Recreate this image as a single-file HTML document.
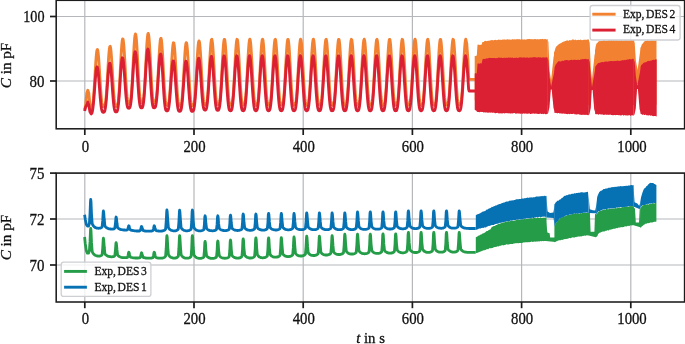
<!DOCTYPE html>
<html><head><meta charset="utf-8"><title>C in pF over t in s</title>
<style>
html,body{margin:0;padding:0;background:#fff;}
body{width:685px;height:344px;overflow:hidden;}
svg{display:block;}
svg text{font-family:"Liberation Serif","DejaVu Serif",serif;font-size:16.2px;fill:#111;stroke:#111;stroke-width:0.3px;}
</style></head><body>
<svg width="685" height="344" viewBox="0 0 685 344">
<rect width="685" height="344" fill="#ffffff"/>
<defs>
<clipPath id="ct"><rect x="56.2" y="0.3" width="628.4" height="128.5"/></clipPath>
<clipPath id="cb"><rect x="56.2" y="173.1" width="628.4" height="128.9"/></clipPath>
</defs>
<!-- top axes -->
<line x1="84.8" y1="0.3" x2="84.8" y2="128.8" stroke="#b6b7bb" stroke-width="1.2"/>
<line x1="194.0" y1="0.3" x2="194.0" y2="128.8" stroke="#b6b7bb" stroke-width="1.2"/>
<line x1="303.2" y1="0.3" x2="303.2" y2="128.8" stroke="#b6b7bb" stroke-width="1.2"/>
<line x1="412.4" y1="0.3" x2="412.4" y2="128.8" stroke="#b6b7bb" stroke-width="1.2"/>
<line x1="521.6" y1="0.3" x2="521.6" y2="128.8" stroke="#b6b7bb" stroke-width="1.2"/>
<line x1="630.8" y1="0.3" x2="630.8" y2="128.8" stroke="#b6b7bb" stroke-width="1.2"/>
<line x1="56.2" y1="16.5" x2="684.6" y2="16.5" stroke="#b6b7bb" stroke-width="1.2"/>
<line x1="56.2" y1="81.0" x2="684.6" y2="81.0" stroke="#b6b7bb" stroke-width="1.2"/>
<g clip-path="url(#ct)">
<path d="M84.6 109.6L85.6 105.6L86.8 93.3L87.8 90.3L88.8 93.3L90.0 106.0L91.4 108.0L91.8 107.7L92.2 106.9L92.6 105.2L93.0 102.6L93.4 98.9L93.8 94.1L94.2 88.3L94.6 81.9L95.0 75.0L95.4 68.3L95.8 62.0L96.2 56.6L96.6 52.6L97.0 50.1L97.4 49.4L97.8 50.5L98.2 53.3L98.6 57.6L99.0 63.1L99.4 69.4L99.8 76.1L100.2 82.7L100.6 88.9L101.0 94.3L101.4 98.8L101.8 102.2L102.2 104.5L102.6 105.9L103.0 106.6L103.4 106.8L103.8 106.8L104.2 106.7L104.6 106.3L105.0 105.3L105.4 103.4L105.8 100.4L106.2 96.3L106.6 91.1L107.0 84.9L107.4 78.1L107.8 71.1L108.2 64.1L108.6 57.8L109.0 52.6L109.4 48.7L109.8 46.6L110.2 46.3L110.6 47.9L111.0 51.2L111.4 56.1L111.8 62.0L112.2 68.8L112.6 75.8L113.0 82.7L113.4 89.0L113.8 94.5L114.2 99.0L114.6 102.2L115.0 104.4L115.4 105.7L115.8 106.3L116.2 106.4L116.6 106.4L117.0 106.3L117.4 105.7L117.8 104.3L118.2 101.9L118.6 98.3L119.0 93.4L119.4 87.4L119.8 80.3L120.2 72.6L120.6 64.7L121.0 57.1L121.4 50.3L121.8 44.8L122.2 40.9L122.6 39.0L123.0 39.1L123.4 41.3L123.8 45.2L124.2 50.7L124.6 57.4L125.0 64.7L125.4 72.2L125.8 79.5L126.2 86.1L126.6 91.7L127.0 96.2L127.4 99.4L127.8 101.5L128.2 102.6L128.6 103.1L129.0 103.2L129.4 103.2L129.8 103.0L130.2 102.2L130.6 100.6L131.0 97.9L131.4 93.9L131.8 88.6L132.2 82.1L132.6 74.7L133.0 66.7L133.4 58.7L133.8 51.0L134.2 44.3L134.6 39.0L135.0 35.5L135.4 34.0L135.8 34.7L136.2 37.5L136.6 42.1L137.0 48.3L137.4 55.6L137.8 63.5L138.2 71.6L138.6 79.2L139.0 86.0L139.4 91.7L139.8 96.2L140.2 99.4L140.6 101.4L141.0 102.4L141.4 102.7L141.8 102.8L142.2 102.8L142.6 102.5L143.0 101.5L143.4 99.7L143.8 96.7L144.2 92.4L144.6 86.7L145.0 80.0L145.4 72.4L145.8 64.3L146.2 56.3L146.6 48.8L147.0 42.4L147.4 37.4L147.8 34.4L148.2 33.4L148.6 34.6L149.0 37.8L149.4 42.9L149.8 49.5L150.2 57.0L150.6 65.1L151.0 73.1L151.4 80.7L151.8 87.3L152.2 92.8L152.6 97.0L153.0 99.9L153.4 101.7L153.8 102.5L154.2 102.8L154.6 102.8L155.0 102.7L155.4 102.3L155.8 101.3L156.2 99.4L156.6 96.3L157.0 92.0L157.4 86.5L157.8 80.0L158.2 72.8L158.6 65.2L159.0 57.8L159.4 51.0L159.8 45.4L160.2 41.1L160.6 38.7L161.0 38.3L161.4 39.9L161.8 43.5L162.2 48.8L162.6 55.4L163.0 62.9L163.4 70.7L163.8 78.4L164.2 85.5L164.6 91.7L165.0 96.8L165.4 100.5L165.8 103.1L166.2 104.6L166.6 105.2L167.0 105.4L167.4 105.4L167.8 105.3L168.2 104.8L168.6 103.6L169.0 101.5L169.4 98.2L169.8 93.7L170.2 88.1L170.6 81.6L171.0 74.5L171.4 67.2L171.8 60.1L172.2 53.7L172.6 48.5L173.0 44.7L173.4 42.8L173.8 42.9L174.2 44.8L174.6 48.6L175.0 53.9L175.4 60.3L175.8 67.5L176.2 74.9L176.6 82.0L177.0 88.6L177.4 94.2L177.8 98.6L178.2 101.9L178.6 104.0L179.0 105.2L179.4 105.7L179.8 105.8L180.2 105.8L180.6 105.6L181.0 105.0L181.4 103.6L181.8 101.2L182.2 97.6L182.6 92.8L183.0 87.0L183.4 80.3L183.8 73.0L184.2 65.6L184.6 58.6L185.0 52.4L185.4 47.5L185.8 44.1L186.2 42.7L186.6 43.1L187.0 45.6L187.4 49.7L187.8 55.3L188.2 62.0L188.6 69.2L189.0 76.6L189.4 83.6L189.8 90.0L190.2 95.3L190.6 99.5L191.0 102.5L191.4 104.4L191.8 105.4L192.2 105.7L192.6 105.8L193.0 105.8L193.4 105.5L193.8 104.7L194.2 103.0L194.6 100.3L195.0 96.4L195.4 91.2L195.8 84.9L196.2 77.9L196.6 70.4L197.0 62.8L197.4 55.8L197.8 49.7L198.2 45.0L198.6 42.0L199.0 40.9L199.4 41.8L199.8 44.7L200.2 49.3L200.6 55.2L201.0 62.1L201.4 69.5L201.8 77.0L202.2 83.9L202.6 90.1L203.0 95.3L203.4 99.2L203.8 102.0L204.2 103.7L204.6 104.5L205.0 104.8L205.4 104.8L205.8 104.7L206.2 104.4L206.6 103.4L207.0 101.5L207.4 98.4L207.8 94.2L208.2 88.7L208.6 82.2L209.0 74.9L209.4 67.2L209.8 59.7L210.2 52.8L210.6 46.9L211.0 42.5L211.4 39.9L211.8 39.3L212.2 40.8L212.6 44.2L213.0 49.2L213.4 55.6L213.8 62.9L214.2 70.5L214.6 78.1L215.0 85.1L215.4 91.3L215.8 96.3L216.2 100.0L216.6 102.6L217.0 104.1L217.4 104.8L217.8 105.0L218.2 105.0L218.6 104.9L219.0 104.4L219.4 103.2L219.8 101.1L220.2 97.7L220.6 93.1L221.0 87.4L221.4 80.6L221.8 73.2L222.2 65.5L222.6 58.0L223.0 51.3L223.4 45.7L223.8 41.7L224.2 39.5L224.6 39.4L225.0 41.3L225.4 45.1L225.8 50.6L226.2 57.2L226.6 64.7L227.0 72.4L227.4 79.9L227.8 86.8L228.2 92.7L228.6 97.4L229.0 100.9L229.4 103.2L229.8 104.5L230.2 105.1L230.6 105.2L231.0 105.2L231.4 105.0L231.8 104.4L232.2 103.0L232.6 100.6L233.0 96.9L233.4 92.1L233.8 86.0L234.2 79.0L234.6 71.5L235.0 63.8L235.4 56.4L235.8 49.9L236.2 44.6L236.6 41.0L237.0 39.3L237.4 39.7L237.8 42.0L238.2 46.3L238.6 52.0L239.0 58.9L239.4 66.5L239.8 74.2L240.2 81.6L240.6 88.2L241.0 93.9L241.4 98.3L241.8 101.6L242.2 103.6L242.6 104.7L243.0 105.1L243.4 105.2L243.8 105.2L244.2 104.9L244.6 104.2L245.0 102.6L245.4 99.8L245.8 95.9L246.2 90.7L246.6 84.5L247.0 77.3L247.4 69.7L247.8 62.0L248.2 54.8L248.6 48.5L249.0 43.6L249.4 40.4L249.8 39.2L250.2 40.0L250.6 42.9L251.0 47.5L251.4 53.5L251.8 60.6L252.2 68.2L252.6 75.9L253.0 83.2L253.4 89.6L253.8 95.0L254.2 99.2L254.6 102.1L255.0 103.9L255.4 104.9L255.8 105.2L256.2 105.2L256.6 105.2L257.0 104.8L257.4 103.9L257.8 102.0L258.2 99.0L258.6 94.8L259.0 89.4L259.4 82.9L259.8 75.6L260.2 67.9L260.6 60.3L261.0 53.2L261.4 47.2L261.8 42.7L262.2 40.0L262.6 39.2L263.0 40.5L263.4 43.8L263.8 48.8L264.2 55.1L264.6 62.4L265.0 70.0L265.4 77.7L265.8 84.8L266.2 91.0L266.6 96.1L267.0 100.0L267.4 102.6L267.8 104.2L268.2 105.0L268.6 105.2L269.0 105.2L269.4 105.1L269.8 104.7L270.2 103.5L270.6 101.4L271.0 98.2L271.4 93.7L271.8 88.0L272.2 81.2L272.6 73.8L273.0 66.1L273.4 58.6L273.8 51.7L274.2 46.0L274.6 41.9L275.0 39.6L275.4 39.3L275.8 41.1L276.2 44.8L276.6 50.1L277.0 56.7L277.4 64.1L277.8 71.8L278.2 79.4L278.6 86.3L279.0 92.3L279.4 97.1L279.8 100.7L280.2 103.1L280.6 104.5L281.0 105.1L281.4 105.2L281.8 105.2L282.2 105.1L282.6 104.5L283.0 103.1L283.4 100.8L283.8 97.2L284.2 92.4L284.6 86.5L285.0 79.6L285.4 72.0L285.8 64.3L286.2 56.9L286.6 50.3L287.0 44.9L287.4 41.2L287.8 39.4L288.2 39.6L288.6 41.8L289.0 45.9L289.4 51.6L289.8 58.4L290.2 65.9L290.6 73.6L291.0 81.1L291.4 87.8L291.8 93.5L292.2 98.1L292.6 101.4L293.0 103.5L293.4 104.7L293.8 105.1L294.2 105.2L294.6 105.2L295.0 105.0L295.4 104.2L295.8 102.7L296.2 100.1L296.6 96.2L297.0 91.1L297.4 84.9L297.8 77.8L298.2 70.2L298.6 62.6L299.0 55.3L299.4 48.9L299.8 43.9L300.2 40.6L300.6 39.2L301.0 39.9L301.4 42.6L301.8 47.1L302.2 53.1L302.6 60.1L303.0 67.7L303.4 75.4L303.8 82.7L304.2 89.2L304.6 94.7L305.0 99.0L305.4 102.0L305.8 103.8L306.2 104.8L306.6 105.2L307.0 105.2L307.4 105.2L307.8 104.9L308.2 104.0L308.6 102.2L309.0 99.3L309.4 95.2L309.8 89.8L310.2 83.4L310.6 76.1L311.0 68.4L311.4 60.8L311.8 53.7L312.2 47.6L312.6 43.0L313.0 40.1L313.4 39.2L313.8 40.4L314.2 43.5L314.6 48.4L315.0 54.6L315.4 61.8L315.8 69.5L316.2 77.1L316.6 84.3L317.0 90.6L317.4 95.8L317.8 99.8L318.2 102.5L318.6 104.1L319.0 104.9L319.4 105.2L319.8 105.2L320.2 105.1L320.6 104.7L321.0 103.6L321.4 101.6L321.8 98.4L322.2 94.0L322.6 88.4L323.0 81.7L323.4 74.3L323.8 66.6L324.2 59.1L324.6 52.2L325.0 46.4L325.4 42.1L325.8 39.7L326.2 39.3L326.6 40.9L327.0 44.5L327.4 49.7L327.8 56.2L328.2 63.6L328.6 71.3L329.0 78.9L329.4 85.8L329.8 91.9L330.2 96.8L330.6 100.5L331.0 103.0L331.4 104.4L331.8 105.0L332.2 105.2L332.6 105.2L333.0 105.1L333.4 104.5L333.8 103.3L334.2 101.0L334.6 97.5L335.0 92.8L335.4 86.9L335.8 80.1L336.2 72.6L336.6 64.9L337.0 57.4L337.4 50.7L337.8 45.2L338.2 41.4L338.6 39.4L339.0 39.5L339.4 41.6L339.8 45.6L340.2 51.1L340.6 57.9L341.0 65.4L341.4 73.1L341.8 80.6L342.2 87.4L342.6 93.2L343.0 97.8L343.4 101.2L343.8 103.4L344.2 104.6L344.6 105.1L345.0 105.2L345.4 105.2L345.8 105.0L346.2 104.3L346.6 102.8L347.0 100.3L347.4 96.5L347.8 91.5L348.2 85.4L348.6 78.4L349.0 70.8L349.4 63.1L349.8 55.8L350.2 49.3L350.6 44.2L351.0 40.8L351.4 39.3L351.8 39.8L352.2 42.4L352.6 46.7L353.0 52.6L353.4 59.6L353.8 67.2L354.2 74.9L354.6 82.2L355.0 88.8L355.4 94.4L355.8 98.7L356.2 101.8L356.6 103.7L357.0 104.8L357.4 105.1L357.8 105.2L358.2 105.2L358.6 104.9L359.0 104.1L359.4 102.3L359.8 99.5L360.2 95.5L360.6 90.2L361.0 83.8L361.4 76.6L361.8 69.0L362.2 61.3L362.6 54.2L363.0 48.0L363.4 43.2L363.8 40.2L364.2 39.2L364.6 40.2L365.0 43.2L365.4 48.0L365.8 54.2L366.2 61.3L366.6 69.0L367.0 76.6L367.4 83.8L367.8 90.2L368.2 95.5L368.6 99.5L369.0 102.3L369.4 104.1L369.8 104.9L370.2 105.2L370.6 105.2L371.0 105.1L371.4 104.8L371.8 103.8L372.2 101.8L372.6 98.7L373.0 94.4L373.4 88.8L373.8 82.2L374.2 74.9L374.6 67.2L375.0 59.6L375.4 52.6L375.8 46.8L376.2 42.4L376.6 39.8L377.0 39.3L377.4 40.8L377.8 44.2L378.2 49.3L378.6 55.8L379.0 63.1L379.4 70.8L379.8 78.3L380.2 85.4L380.6 91.5L381.0 96.5L381.4 100.3L381.8 102.8L382.2 104.3L382.6 105.0L383.0 105.2L383.4 105.2L383.8 105.1L384.2 104.6L384.6 103.4L385.0 101.2L385.4 97.8L385.8 93.2L386.2 87.4L386.6 80.6L387.0 73.1L387.4 65.4L387.8 57.9L388.2 51.2L388.6 45.6L389.0 41.6L389.4 39.5L389.8 39.4L390.2 41.4L390.6 45.2L391.0 50.7L391.4 57.4L391.8 64.8L392.2 72.6L392.6 80.0L393.0 86.9L393.4 92.8L393.8 97.5L394.2 101.0L394.6 103.3L395.0 104.5L395.4 105.1L395.8 105.2L396.2 105.2L396.6 105.0L397.0 104.4L397.4 103.0L397.8 100.5L398.2 96.8L398.6 91.9L399.0 85.9L399.4 78.9L399.8 71.3L400.2 63.6L400.6 56.3L401.0 49.7L401.4 44.5L401.8 40.9L402.2 39.3L402.6 39.7L403.0 42.1L403.4 46.4L403.8 52.2L404.2 59.1L404.6 66.6L405.0 74.3L405.4 81.7L405.8 88.4L406.2 94.0L406.6 98.4L407.0 101.6L407.4 103.6L407.8 104.7L408.2 105.1L408.6 105.2L409.0 105.2L409.4 104.9L409.8 104.1L410.2 102.5L410.6 99.8L411.0 95.8L411.4 90.6L411.8 84.3L412.2 77.2L412.6 69.5L413.0 61.9L413.4 54.6L413.8 48.4L414.2 43.5L414.6 40.4L415.0 39.2L415.4 40.1L415.8 43.0L416.2 47.6L416.6 53.7L417.0 60.8L417.4 68.4L417.8 76.1L418.2 83.3L418.6 89.8L419.0 95.1L419.4 99.3L419.8 102.2L420.2 104.0L420.6 104.9L421.0 105.2L421.4 105.2L421.8 105.2L422.2 104.8L422.6 103.8L423.0 102.0L423.4 99.0L423.8 94.7L424.2 89.2L424.6 82.7L425.0 75.4L425.4 67.7L425.8 60.1L426.2 53.1L426.6 47.1L427.0 42.6L427.4 39.9L427.8 39.2L428.2 40.6L428.6 43.9L429.0 48.9L429.4 55.3L429.8 62.5L430.2 70.2L430.6 77.8L431.0 84.9L431.4 91.1L431.8 96.2L432.2 100.1L432.6 102.7L433.0 104.2L433.4 105.0L433.8 105.2L434.2 105.2L434.6 105.1L435.0 104.7L435.4 103.5L435.8 101.4L436.2 98.1L436.6 93.5L437.0 87.8L437.4 81.1L437.8 73.6L438.2 65.9L438.6 58.4L439.0 51.6L439.4 45.9L439.8 41.8L440.2 39.6L440.6 39.4L441.0 41.2L441.4 44.9L441.8 50.3L442.2 56.9L442.6 64.3L443.0 72.0L443.4 79.5L443.8 86.5L444.2 92.4L444.6 97.2L445.0 100.8L445.4 103.1L445.8 104.5L446.2 105.1L446.6 105.2L447.0 105.2L447.4 105.1L447.8 104.5L448.2 103.1L448.6 100.7L449.0 97.1L449.4 92.3L449.8 86.3L450.2 79.4L450.6 71.9L451.0 64.2L451.4 56.8L451.8 50.2L452.2 44.8L452.6 41.1L453.0 39.3L453.4 39.6L453.8 41.9L454.2 46.0L454.6 51.7L455.0 58.6L455.4 66.1L455.8 73.8L456.2 81.2L456.6 87.9L457.0 93.6L457.4 98.2L457.8 101.4L458.2 103.5L458.6 104.7L459.0 105.1L459.4 105.2L459.8 105.2L460.2 105.0L460.6 104.2L461.0 102.7L461.4 100.0L461.8 96.1L462.2 91.0L462.6 84.8L463.0 77.7L463.4 70.1L463.8 62.4L464.2 55.1L464.6 48.8L465.0 43.8L465.4 40.5L465.8 39.2L466.7 43.2L467.9 59.3L468.6 77.4L469.2 79.4L475.0 79.4" fill="none" stroke="#f28232" stroke-width="2.9" stroke-linejoin="round" stroke-linecap="butt"/>
<path d="M474.7 56.0L475.4 56.0L476.1 55.8L476.8 55.6L477.5 44.7L478.2 44.8L478.9 44.6L479.6 44.9L480.3 44.9L481.0 44.4L481.7 44.7L482.4 42.0L483.1 41.9L483.8 42.0L484.5 41.1L485.2 40.9L485.9 40.7L486.6 41.2L487.3 41.0L488.0 40.8L488.7 40.8L489.4 40.7L490.1 40.3L490.8 40.5L491.5 40.0L492.2 40.3L492.9 39.9L493.6 40.5L494.3 40.1L495.0 40.0L495.7 39.8L496.4 40.2L497.1 39.9L497.8 39.9L498.5 39.4L499.2 39.8L499.9 39.8L500.6 39.7L501.3 40.0L502.0 39.7L502.7 39.5L503.4 39.5L504.1 39.7L504.8 39.2L505.5 39.7L506.2 39.7L506.9 39.3L507.6 39.2L508.3 39.4L509.0 39.4L509.7 39.6L510.4 39.5L511.1 39.9L511.8 39.2L512.5 39.3L513.2 39.2L513.9 39.6L514.6 39.3L515.3 39.4L516.0 39.2L516.7 39.2L517.4 39.1L518.1 39.6L518.8 39.1L519.5 39.2L520.2 39.3L520.9 39.7L521.6 39.1L522.3 39.7L523.0 39.1L523.7 39.7L524.4 39.3L525.1 39.7L525.8 39.4L526.5 39.5L527.2 39.0L527.9 39.2L528.6 39.0L529.3 39.1L530.0 39.0L530.7 39.2L531.4 39.2L532.1 38.9L532.8 39.4L533.5 39.3L534.2 39.1L534.9 39.3L535.6 38.9L536.3 39.3L537.0 39.6L537.7 39.1L538.4 39.4L539.1 38.9L539.8 39.4L540.5 39.0L541.2 38.9L541.9 39.2L542.6 38.8L543.3 39.4L544.0 38.7L544.7 39.2L545.4 38.9L546.1 39.2L546.8 39.4L547.5 38.8L547.5 105.3L546.8 105.0L546.1 104.9L545.4 105.1L544.7 104.6L544.0 104.6L543.3 104.7L542.6 104.8L541.9 105.1L541.2 104.8L540.5 104.8L539.8 104.5L539.1 104.7L538.4 104.6L537.7 104.8L537.0 105.0L536.3 105.2L535.6 104.6L534.9 104.6L534.2 104.7L533.5 104.6L532.8 105.0L532.1 104.8L531.4 104.8L530.7 104.8L530.0 105.1L529.3 104.5L528.6 104.8L527.9 104.8L527.2 104.4L526.5 104.3L525.8 104.9L525.1 105.0L524.4 104.5L523.7 104.4L523.0 104.9L522.3 104.3L521.6 104.4L520.9 104.3L520.2 104.6L519.5 104.3L518.8 104.8L518.1 104.5L517.4 104.2L516.7 104.8L516.0 104.9L515.3 104.8L514.6 104.7L513.9 104.5L513.2 104.7L512.5 104.2L511.8 104.4L511.1 104.5L510.4 104.7L509.7 104.7L509.0 104.1L508.3 104.5L507.6 104.2L506.9 104.7L506.2 104.1L505.5 104.8L504.8 104.6L504.1 104.7L503.4 104.1L502.7 104.5L502.0 104.6L501.3 104.7L500.6 104.3L499.9 104.2L499.2 104.6L498.5 104.2L497.8 104.4L497.1 104.4L496.4 104.3L495.7 104.3L495.0 104.3L494.3 104.1L493.6 103.9L492.9 104.2L492.2 104.3L491.5 104.0L490.8 104.3L490.1 104.0L489.4 103.8L488.7 104.2L488.0 104.1L487.3 104.3L486.6 104.5L485.9 104.1L485.2 104.3L484.5 104.3L483.8 104.4L483.1 104.1L482.4 104.4L481.7 104.0L481.0 104.3L480.3 103.9L479.6 104.2L478.9 104.3L478.2 104.0L477.5 104.4L476.8 103.1L476.1 102.3L475.4 101.2L474.7 100.1Z" fill="#f28232"/>
<path d="M554.0 52.4L554.7 50.8L555.4 48.3L556.1 46.8L556.8 46.0L557.5 45.4L558.2 44.8L558.9 44.3L559.6 43.8L560.3 43.4L561.0 42.9L561.7 42.8L562.4 42.1L563.1 42.3L563.8 41.2L564.5 41.4L565.2 40.9L565.9 40.9L566.6 40.4L567.3 40.3L568.0 40.7L568.7 40.7L569.4 40.0L570.1 40.2L570.8 40.2L571.5 40.2L572.2 39.6L572.9 39.5L573.6 39.6L574.3 40.2L575.0 39.6L575.7 39.8L576.4 40.2L577.1 39.9L577.8 40.0L578.5 39.7L579.2 40.0L579.9 40.1L580.6 39.5L581.3 40.0L582.0 40.2L582.7 40.0L583.4 39.7L584.1 40.1L584.8 39.5L585.5 39.8L586.2 40.1L586.9 39.6L587.6 39.6L588.3 39.5L589.0 39.4L589.0 105.0L588.3 104.8L587.6 105.0L586.9 104.5L586.2 105.0L585.5 105.2L584.8 104.7L584.1 104.8L583.4 104.9L582.7 104.8L582.0 105.2L581.3 104.5L580.6 104.9L579.9 104.9L579.2 105.1L578.5 104.6L577.8 105.0L577.1 104.5L576.4 104.5L575.7 104.8L575.0 104.7L574.3 104.9L573.6 104.7L572.9 104.7L572.2 104.4L571.5 104.8L570.8 104.2L570.1 104.4L569.4 104.7L568.7 104.1L568.0 104.1L567.3 104.7L566.6 104.4L565.9 104.7L565.2 104.3L564.5 104.4L563.8 104.3L563.1 103.9L562.4 104.2L561.7 104.4L561.0 104.1L560.3 103.9L559.6 104.3L558.9 104.2L558.2 103.8L557.5 104.2L556.8 103.7L556.1 104.1L555.4 103.9L554.7 103.8L554.0 104.1Z" fill="#f28232"/>
<path d="M595.0 50.4L595.7 46.3L596.4 43.8L597.1 43.1L597.8 42.4L598.5 41.6L599.2 41.0L599.9 41.2L600.6 40.9L601.3 40.7L602.0 40.9L602.7 40.7L603.4 40.3L604.1 40.5L604.8 40.2L605.5 40.7L606.2 40.8L606.9 40.5L607.6 40.7L608.3 40.1L609.0 40.5L609.7 40.1L610.4 40.4L611.1 40.1L611.8 40.1L612.5 40.5L613.2 40.2L613.9 40.1L614.6 40.2L615.3 40.3L616.0 40.4L616.7 40.1L617.4 40.5L618.1 40.3L618.8 40.4L619.5 40.3L620.2 40.6L620.9 40.4L621.6 40.1L622.3 40.5L623.0 40.7L623.7 40.3L624.4 40.6L625.1 40.2L625.8 40.3L626.5 40.2L627.2 40.2L627.9 40.5L628.6 40.3L629.3 40.6L630.0 40.3L630.7 39.9L631.4 40.1L632.1 40.5L632.8 40.1L633.5 39.8L634.2 40.0L634.2 105.0L633.5 104.9L632.8 105.3L632.1 104.8L631.4 104.8L630.7 105.0L630.0 105.2L629.3 104.7L628.6 104.9L627.9 105.1L627.2 105.0L626.5 105.1L625.8 104.5L625.1 105.0L624.4 105.1L623.7 104.5L623.0 104.8L622.3 104.8L621.6 104.6L620.9 104.4L620.2 104.8L619.5 104.8L618.8 104.2L618.1 104.4L617.4 104.3L616.7 104.9L616.0 104.6L615.3 104.4L614.6 104.4L613.9 104.5L613.2 104.4L612.5 104.6L611.8 104.0L611.1 104.5L610.4 104.2L609.7 104.6L609.0 104.0L608.3 104.2L607.6 104.5L606.9 104.6L606.2 104.2L605.5 104.1L604.8 104.1L604.1 104.2L603.4 104.2L602.7 104.6L602.0 103.8L601.3 104.0L600.6 104.2L599.9 104.0L599.2 103.8L598.5 104.3L597.8 104.2L597.1 104.3L596.4 104.4L595.7 104.4L595.0 103.7Z" fill="#f28232"/>
<path d="M640.4 48.0L641.1 46.5L641.8 44.4L642.5 43.7L643.2 43.1L643.9 42.1L644.6 41.2L645.3 41.1L646.0 40.7L646.7 40.8L647.4 40.3L648.1 40.6L648.8 40.7L649.5 40.4L650.2 40.7L650.9 40.6L651.6 40.1L652.3 40.5L653.0 40.3L653.7 40.4L654.4 40.3L655.1 40.6L655.8 40.4L656.5 40.1L656.5 104.8L655.8 105.0L655.1 105.2L654.4 104.8L653.7 104.6L653.0 104.6L652.3 104.7L651.6 104.6L650.9 104.4L650.2 104.5L649.5 104.6L648.8 104.6L648.1 104.1L647.4 104.3L646.7 104.7L646.0 104.7L645.3 104.4L644.6 104.6L643.9 104.6L643.2 104.1L642.5 103.9L641.8 103.9L641.1 104.3L640.4 104.0Z" fill="#f28232"/>
<path d="M547.3 39.0L548.4 42.0L549.6 71.0L551.1 80.0L553.5 57.5L554.6 52.5L554.6 104.0L553.0 99.0L551.7 86.0L550.8 86.0L549.5 98.0L548.2 104.0L547.3 105.0Z" fill="#f28232"/>
<path d="M588.6 39.8L589.7 42.8L590.9 70.0L592.0 79.0L594.5 55.5L595.6 50.5L595.6 104.0L594.0 99.0L592.6 86.0L591.7 86.0L590.8 98.0L589.5 104.0L588.6 105.0Z" fill="#f28232"/>
<path d="M633.6 40.2L634.7 43.2L635.9 61.0L637.6 70.0L639.9 53.0L641.0 48.0L641.0 104.0L639.4 99.0L638.2 84.0L637.3 84.0L635.8 98.0L634.5 104.0L633.6 105.0Z" fill="#f28232"/>
<path d="M84.6 111.0L85.6 107.0L86.8 105.1L87.8 102.1L88.8 105.1L90.0 111.9L91.1 113.9L91.5 113.6L91.9 113.0L92.3 111.7L92.7 109.6L93.1 106.6L93.5 102.7L93.9 98.1L94.3 92.9L94.7 87.5L95.1 82.0L95.5 77.0L95.9 72.7L96.3 69.5L96.7 67.5L97.1 66.9L97.5 67.8L97.9 70.0L98.3 73.4L98.7 77.7L99.1 82.7L99.5 88.0L99.9 93.2L100.3 98.1L100.7 102.4L101.1 106.0L101.5 108.7L101.9 110.5L102.3 111.6L102.7 112.1L103.1 112.3L103.5 112.3L103.9 112.2L104.3 111.9L104.7 111.1L105.1 109.5L105.5 107.1L105.9 103.8L106.3 99.5L106.7 94.6L107.1 89.0L107.5 83.3L107.9 77.7L108.3 72.6L108.7 68.3L109.1 65.2L109.5 63.4L109.9 63.2L110.3 64.5L110.7 67.2L111.1 71.1L111.5 75.9L111.9 81.4L112.3 87.1L112.7 92.7L113.1 97.8L113.5 102.3L113.9 105.9L114.3 108.5L114.7 110.3L115.1 111.3L115.5 111.8L115.9 111.9L116.3 111.9L116.7 111.8L117.1 111.3L117.5 110.2L117.9 108.3L118.3 105.4L118.7 101.5L119.1 96.6L119.5 91.0L119.9 84.8L120.3 78.5L120.7 72.4L121.1 66.9L121.5 62.5L121.9 59.4L122.3 57.8L122.7 58.0L123.1 59.6L123.5 62.8L123.9 67.1L124.3 72.3L124.7 78.0L125.1 83.9L125.5 89.6L125.9 94.8L126.3 99.2L126.7 102.7L127.1 105.2L127.5 106.9L127.9 107.8L128.3 108.1L128.7 108.2L129.1 108.2L129.5 108.0L129.9 107.4L130.3 106.1L130.7 103.9L131.1 100.6L131.5 96.3L131.9 91.0L132.3 84.9L132.7 78.4L133.1 71.8L133.5 65.6L133.9 60.1L134.3 55.8L134.7 52.9L135.1 51.7L135.5 52.3L135.9 54.5L136.3 58.3L136.7 63.4L137.1 69.3L137.5 75.8L137.9 82.3L138.3 88.5L138.7 94.1L139.1 98.8L139.5 102.4L139.9 105.0L140.3 106.6L140.7 107.5L141.1 107.8L141.5 107.8L141.9 107.8L142.3 107.5L142.7 106.7L143.1 105.2L143.5 102.6L143.9 99.0L144.3 94.2L144.7 88.5L145.1 82.1L145.5 75.3L145.9 68.5L146.3 62.1L146.7 56.7L147.1 52.5L147.5 49.9L147.9 49.1L148.3 50.1L148.7 52.8L149.1 57.1L149.5 62.7L149.9 69.1L150.3 75.9L150.7 82.7L151.1 89.1L151.5 94.7L151.9 99.3L152.3 102.9L152.7 105.4L153.1 106.8L153.5 107.6L153.9 107.8L154.3 107.8L154.7 107.7L155.1 107.4L155.5 106.6L155.9 104.9L156.3 102.4L156.7 98.8L157.1 94.2L157.5 88.8L157.9 82.7L158.3 76.5L158.7 70.3L159.1 64.6L159.5 59.9L159.9 56.4L160.3 54.3L160.7 54.0L161.1 55.3L161.5 58.4L161.9 62.9L162.3 68.5L162.7 74.8L163.1 81.5L163.5 88.0L163.9 94.1L164.3 99.3L164.7 103.6L165.1 106.8L165.5 108.9L165.9 110.2L166.3 110.7L166.7 110.9L167.1 110.9L167.5 110.8L167.9 110.4L168.3 109.5L168.7 107.7L169.1 105.1L169.5 101.6L169.9 97.1L170.3 91.9L170.7 86.2L171.1 80.3L171.5 74.7L171.9 69.6L172.3 65.4L172.7 62.4L173.1 60.9L173.5 60.9L173.9 62.5L174.3 65.5L174.7 69.7L175.1 74.9L175.5 80.6L175.9 86.5L176.3 92.3L176.7 97.5L177.1 102.0L177.5 105.6L177.9 108.2L178.3 109.9L178.7 110.8L179.1 111.2L179.5 111.3L179.9 111.3L180.3 111.2L180.7 110.7L181.1 109.5L181.5 107.6L181.9 104.8L182.3 101.0L182.7 96.4L183.1 91.0L183.5 85.3L183.9 79.4L184.3 73.8L184.7 68.9L185.1 65.0L185.5 62.3L185.9 61.2L186.3 61.5L186.7 63.4L187.1 66.7L187.5 71.2L187.9 76.5L188.3 82.2L188.7 88.1L189.1 93.7L189.5 98.7L189.9 103.0L190.3 106.3L190.7 108.7L191.1 110.2L191.5 111.0L191.9 111.3L192.3 111.3L192.7 111.3L193.1 111.1L193.5 110.4L193.9 109.0L194.3 106.8L194.7 103.6L195.1 99.3L195.5 94.2L195.9 88.5L196.3 82.3L196.7 76.1L197.1 70.4L197.5 65.4L197.9 61.5L198.3 59.1L198.7 58.2L199.1 59.0L199.5 61.3L199.9 65.0L200.3 69.8L200.7 75.4L201.1 81.4L201.5 87.4L201.9 93.1L202.3 98.1L202.7 102.3L203.1 105.5L203.5 107.7L203.9 109.1L204.3 109.8L204.7 110.0L205.1 110.0L205.5 110.0L205.9 109.7L206.3 108.8L206.7 107.3L207.1 104.8L207.5 101.3L207.9 96.8L208.3 91.4L208.7 85.5L209.1 79.2L209.5 73.0L209.9 67.4L210.3 62.5L210.7 58.9L211.1 56.8L211.5 56.3L211.9 57.5L212.3 60.3L212.7 64.5L213.1 69.7L213.5 75.7L213.9 82.0L214.3 88.2L214.7 94.0L215.1 99.0L215.5 103.1L215.9 106.2L216.3 108.3L216.7 109.6L217.1 110.1L217.5 110.3L217.9 110.3L218.3 110.2L218.7 109.8L219.1 108.8L219.5 107.0L219.9 104.3L220.3 100.5L220.7 95.7L221.1 90.1L221.5 83.9L221.9 77.5L222.3 71.3L222.7 65.7L223.1 61.1L223.5 57.7L223.9 56.0L224.3 55.9L224.7 57.5L225.1 60.6L225.5 65.2L225.9 70.7L226.3 76.9L226.7 83.3L227.1 89.6L227.5 95.3L227.9 100.3L228.3 104.2L228.7 107.1L229.1 109.1L229.5 110.1L229.9 110.6L230.3 110.7L230.7 110.7L231.1 110.6L231.5 110.0L231.9 108.9L232.3 106.9L232.7 103.8L233.1 99.7L233.5 94.7L233.9 88.9L234.3 82.6L234.7 76.2L235.1 70.0L235.5 64.6L235.9 60.2L236.3 57.2L236.7 55.8L237.1 56.1L237.5 58.1L237.9 61.6L238.3 66.4L238.7 72.1L239.1 78.4L239.5 84.8L239.9 91.0L240.3 96.6L240.7 101.3L241.1 105.0L241.5 107.7L241.9 109.4L242.3 110.3L242.7 110.6L243.1 110.7L243.5 110.7L243.9 110.5L244.3 109.8L244.7 108.5L245.1 106.2L245.5 103.0L245.9 98.7L246.3 93.4L246.7 87.5L247.1 81.1L247.5 74.7L247.9 68.7L248.3 63.5L248.7 59.4L249.1 56.7L249.5 55.7L249.9 56.4L250.3 58.8L250.7 62.6L251.1 67.6L251.5 73.6L251.9 79.9L252.3 86.3L252.7 92.4L253.1 97.7L253.5 102.2L253.9 105.7L254.3 108.1L254.7 109.7L255.1 110.4L255.5 110.7L255.9 110.7L256.3 110.7L256.7 110.4L257.1 109.6L257.5 108.1L257.9 105.6L258.3 102.0L258.7 97.5L259.1 92.1L259.5 86.0L259.9 79.6L260.3 73.3L260.7 67.4L261.1 62.4L261.5 58.6L261.9 56.3L262.3 55.7L262.7 56.8L263.1 59.5L263.5 63.7L263.9 69.0L264.3 75.0L264.7 81.4L265.1 87.8L265.5 93.7L265.9 98.9L266.3 103.1L266.7 106.4L267.1 108.6L267.5 109.9L267.9 110.5L268.3 110.7L268.7 110.7L269.1 110.6L269.5 110.3L269.9 109.3L270.3 107.6L270.7 104.8L271.1 101.1L271.5 96.3L271.9 90.7L272.3 84.5L272.7 78.1L273.1 71.9L273.5 66.1L273.9 61.4L274.3 57.9L274.7 56.0L275.1 55.8L275.5 57.3L275.9 60.4L276.3 64.8L276.7 70.3L277.1 76.5L277.5 82.9L277.9 89.2L278.3 95.0L278.7 99.9L279.1 104.0L279.5 107.0L279.9 109.0L280.3 110.1L280.7 110.6L281.1 110.7L281.5 110.7L281.9 110.6L282.3 110.1L282.7 109.0L283.1 107.0L283.5 104.1L283.9 100.1L284.3 95.1L284.7 89.3L285.1 83.1L285.5 76.6L285.9 70.5L286.3 64.9L286.7 60.5L287.1 57.4L287.5 55.8L287.9 56.0L288.3 57.9L288.7 61.3L289.1 66.0L289.5 71.7L289.9 78.0L290.3 84.4L290.7 90.6L291.1 96.2L291.5 101.0L291.9 104.8L292.3 107.5L292.7 109.3L293.1 110.2L293.5 110.6L293.9 110.7L294.3 110.7L294.7 110.5L295.1 109.9L295.5 108.6L295.9 106.4L296.3 103.2L296.7 99.0L297.1 93.8L297.5 87.9L297.9 81.6L298.3 75.2L298.7 69.1L299.1 63.8L299.5 59.6L299.9 56.9L300.3 55.7L300.7 56.3L301.1 58.5L301.5 62.3L301.9 67.3L302.3 73.1L302.7 79.5L303.1 85.9L303.5 91.9L303.9 97.4L304.3 101.9L304.7 105.5L305.1 108.0L305.5 109.6L305.9 110.4L306.3 110.7L306.7 110.7L307.1 110.7L307.5 110.4L307.9 109.7L308.3 108.2L308.7 105.8L309.1 102.3L309.5 97.9L309.9 92.5L310.3 86.5L310.7 80.1L311.1 73.7L311.5 67.8L311.9 62.7L312.3 58.8L312.7 56.4L313.1 55.7L313.5 56.7L313.9 59.3L314.3 63.3L314.7 68.6L315.1 74.6L315.5 81.0L315.9 87.3L316.3 93.3L316.7 98.5L317.1 102.9L317.5 106.2L317.9 108.4L318.3 109.8L318.7 110.5L319.1 110.7L319.5 110.7L319.9 110.6L320.3 110.3L320.7 109.4L321.1 107.7L321.5 105.1L321.9 101.4L322.3 96.7L322.7 91.1L323.1 85.0L323.5 78.6L323.9 72.3L324.3 66.5L324.7 61.7L325.1 58.1L325.5 56.1L325.9 55.8L326.3 57.1L326.7 60.1L327.1 64.5L327.5 69.9L327.9 76.0L328.3 82.5L328.7 88.8L329.1 94.6L329.5 99.6L329.9 103.7L330.3 106.8L330.7 108.8L331.1 110.0L331.5 110.6L331.9 110.7L332.3 110.7L332.7 110.6L333.1 110.2L333.5 109.1L333.9 107.2L334.3 104.3L334.7 100.4L335.1 95.5L335.5 89.8L335.9 83.5L336.3 77.1L336.7 70.9L337.1 65.3L337.5 60.7L337.9 57.5L338.3 55.9L338.7 55.9L339.1 57.7L339.5 61.0L339.9 65.6L340.3 71.3L340.7 77.5L341.1 83.9L341.5 90.2L341.9 95.8L342.3 100.7L342.7 104.5L343.1 107.4L343.5 109.2L343.9 110.2L344.3 110.6L344.7 110.7L345.1 110.7L345.5 110.5L345.9 110.0L346.3 108.7L346.7 106.6L347.1 103.5L347.5 99.3L347.9 94.2L348.3 88.3L348.7 82.0L349.1 75.6L349.5 69.5L349.9 64.1L350.3 59.9L350.7 57.0L351.1 55.7L351.5 56.2L351.9 58.3L352.3 62.0L352.7 66.9L353.1 72.7L353.5 79.0L353.9 85.4L354.3 91.5L354.7 97.0L355.1 101.7L355.5 105.3L355.9 107.9L356.3 109.5L356.7 110.3L357.1 110.7L357.5 110.7L357.9 110.7L358.3 110.5L358.7 109.8L359.1 108.3L359.5 106.0L359.9 102.6L360.3 98.2L360.7 92.9L361.1 86.9L361.5 80.5L361.9 74.1L362.3 68.2L362.7 63.0L363.1 59.1L363.5 56.6L363.9 55.7L364.3 56.6L364.7 59.1L365.1 63.0L365.5 68.2L365.9 74.1L366.3 80.5L366.7 86.9L367.1 92.9L367.5 98.2L367.9 102.6L368.3 106.0L368.7 108.3L369.1 109.7L369.5 110.5L369.9 110.7L370.3 110.7L370.7 110.7L371.1 110.3L371.5 109.5L371.9 107.9L372.3 105.3L372.7 101.7L373.1 97.0L373.5 91.6L373.9 85.4L374.3 79.0L374.7 72.7L375.1 66.9L375.5 62.0L375.9 58.3L376.3 56.2L376.7 55.7L377.1 57.0L377.5 59.9L377.9 64.1L378.3 69.5L378.7 75.6L379.1 82.0L379.5 88.3L379.9 94.2L380.3 99.3L380.7 103.5L381.1 106.6L381.5 108.7L381.9 110.0L382.3 110.5L382.7 110.7L383.1 110.7L383.5 110.6L383.9 110.2L384.3 109.2L384.7 107.4L385.1 104.5L385.5 100.7L385.9 95.8L386.3 90.2L386.7 84.0L387.1 77.5L387.5 71.3L387.9 65.7L388.3 61.0L388.7 57.7L389.1 55.9L389.5 55.9L389.9 57.5L390.3 60.7L390.7 65.3L391.1 70.9L391.5 77.1L391.9 83.5L392.3 89.7L392.7 95.5L393.1 100.4L393.5 104.3L393.9 107.2L394.3 109.1L394.7 110.2L395.1 110.6L395.5 110.7L395.9 110.7L396.3 110.6L396.7 110.0L397.1 108.8L397.5 106.8L397.9 103.7L398.3 99.6L398.7 94.6L399.1 88.8L399.5 82.5L399.9 76.0L400.3 69.9L400.7 64.5L401.1 60.1L401.5 57.1L401.9 55.8L402.3 56.1L402.7 58.1L403.1 61.7L403.5 66.5L403.9 72.3L404.3 78.6L404.7 85.0L405.1 91.1L405.5 96.7L405.9 101.4L406.3 105.1L406.7 107.7L407.1 109.4L407.5 110.3L407.9 110.6L408.3 110.7L408.7 110.7L409.1 110.5L409.5 109.8L409.9 108.5L410.3 106.2L410.7 102.9L411.1 98.5L411.5 93.3L411.9 87.3L412.3 81.0L412.7 74.6L413.1 68.6L413.5 63.4L413.9 59.3L414.3 56.7L414.7 55.7L415.1 56.4L415.5 58.8L415.9 62.7L416.3 67.8L416.7 73.7L417.1 80.1L417.5 86.4L417.9 92.5L418.3 97.9L418.7 102.3L419.1 105.8L419.5 108.2L419.9 109.7L420.3 110.4L420.7 110.7L421.1 110.7L421.5 110.7L421.9 110.4L422.3 109.6L422.7 108.0L423.1 105.5L423.5 102.0L423.9 97.4L424.3 92.0L424.7 85.9L425.1 79.5L425.5 73.1L425.9 67.3L426.3 62.3L426.7 58.5L427.1 56.3L427.5 55.7L427.9 56.9L428.3 59.6L428.7 63.8L429.1 69.1L429.5 75.1L429.9 81.5L430.3 87.9L430.7 93.8L431.1 99.0L431.5 103.2L431.9 106.4L432.3 108.6L432.7 109.9L433.1 110.5L433.5 110.7L433.9 110.7L434.3 110.6L434.7 110.2L435.1 109.3L435.5 107.5L435.9 104.8L436.3 101.0L436.7 96.2L437.1 90.6L437.5 84.4L437.9 78.0L438.3 71.7L438.7 66.0L439.1 61.3L439.5 57.9L439.9 56.0L440.3 55.8L440.7 57.4L441.1 60.5L441.5 64.9L441.9 70.4L442.3 76.6L442.7 83.0L443.1 89.3L443.5 95.1L443.9 100.1L444.3 104.1L444.7 107.0L445.1 109.0L445.5 110.1L445.9 110.6L446.3 110.7L446.7 110.7L447.1 110.6L447.5 110.1L447.9 109.0L448.3 107.0L448.7 104.0L449.1 100.0L449.5 95.0L449.9 89.2L450.3 82.9L450.7 76.5L451.1 70.3L451.5 64.8L451.9 60.4L452.3 57.3L452.7 55.8L453.1 56.0L453.5 57.9L453.9 61.4L454.3 66.1L454.7 71.8L455.1 78.1L455.5 84.5L455.9 90.7L456.3 96.3L456.7 101.1L457.1 104.8L457.5 107.6L457.9 109.3L458.3 110.3L458.7 110.6L459.1 110.7L459.5 110.7L459.9 110.5L460.3 109.9L460.7 108.6L461.1 106.4L461.5 103.1L461.9 98.9L462.3 93.7L462.7 87.8L463.1 81.4L463.5 75.0L463.9 69.0L464.3 63.7L464.7 59.5L465.1 56.8L465.5 55.7L466.4 59.7L467.6 73.3L468.6 89.0L469.2 91.0L475.0 91.0" fill="none" stroke="#dc2033" stroke-width="2.9" stroke-linejoin="round" stroke-linecap="butt"/>
<path d="M474.7 73.7L475.4 73.0L476.1 73.4L476.8 73.3L477.5 63.8L478.2 63.5L478.9 63.4L479.6 63.8L480.3 63.3L481.0 63.2L481.7 63.6L482.4 59.8L483.1 58.8L483.8 59.1L484.5 59.1L485.2 58.8L485.9 58.7L486.6 58.2L487.3 58.6L488.0 58.2L488.7 58.0L489.4 57.7L490.1 57.9L490.8 58.1L491.5 57.9L492.2 57.9L492.9 58.0L493.6 57.9L494.3 58.0L495.0 58.0L495.7 58.2L496.4 57.9L497.1 58.2L497.8 57.7L498.5 57.6L499.2 57.7L499.9 57.6L500.6 58.1L501.3 57.5L502.0 57.9L502.7 57.9L503.4 58.1L504.1 57.6L504.8 58.1L505.5 57.7L506.2 58.0L506.9 57.6L507.6 58.1L508.3 57.6L509.0 57.5L509.7 57.7L510.4 57.4L511.1 58.0L511.8 57.4L512.5 57.6L513.2 58.1L513.9 58.1L514.6 57.7L515.3 57.9L516.0 57.5L516.7 57.7L517.4 58.0L518.1 57.7L518.8 57.7L519.5 57.3L520.2 57.5L520.9 57.3L521.6 57.5L522.3 57.5L523.0 57.8L523.7 57.2L524.4 57.5L525.1 57.4L525.8 57.7L526.5 57.4L527.2 57.2L527.9 57.8L528.6 57.7L529.3 57.8L530.0 57.4L530.7 57.6L531.4 57.5L532.1 57.6L532.8 57.3L533.5 57.3L534.2 57.1L534.9 57.3L535.6 57.2L536.3 57.5L537.0 57.5L537.7 57.4L538.4 57.3L539.1 57.1L539.8 57.8L540.5 57.3L541.2 57.4L541.9 57.8L542.6 57.4L543.3 57.3L544.0 57.4L544.7 57.5L545.4 57.7L546.1 57.1L546.8 57.4L547.5 57.6L547.5 114.1L546.8 114.0L546.1 114.2L545.4 114.2L544.7 113.8L544.0 113.8L543.3 114.2L542.6 113.8L541.9 114.1L541.2 114.1L540.5 113.6L539.8 113.7L539.1 114.1L538.4 114.0L537.7 113.7L537.0 113.9L536.3 113.6L535.6 113.5L534.9 114.0L534.2 113.4L533.5 113.6L532.8 113.4L532.1 113.7L531.4 113.7L530.7 113.9L530.0 114.0L529.3 113.3L528.6 113.4L527.9 113.9L527.2 113.6L526.5 113.7L525.8 113.6L525.1 113.4L524.4 113.8L523.7 113.2L523.0 113.7L522.3 113.8L521.6 113.6L520.9 113.8L520.2 113.8L519.5 113.6L518.8 113.8L518.1 113.2L517.4 113.4L516.7 113.5L516.0 113.7L515.3 113.4L514.6 113.1L513.9 113.1L513.2 113.3L512.5 113.4L511.8 113.2L511.1 113.5L510.4 113.4L509.7 113.6L509.0 113.0L508.3 113.6L507.6 113.3L506.9 113.0L506.2 113.3L505.5 113.0L504.8 113.4L504.1 113.2L503.4 113.0L502.7 113.4L502.0 113.3L501.3 113.5L500.6 113.3L499.9 113.4L499.2 113.2L498.5 113.5L497.8 112.7L497.1 113.1L496.4 113.1L495.7 113.3L495.0 113.3L494.3 112.8L493.6 112.6L492.9 112.9L492.2 112.6L491.5 112.4L490.8 112.8L490.1 112.4L489.4 112.4L488.7 112.7L488.0 112.5L487.3 112.7L486.6 112.2L485.9 112.7L485.2 112.2L484.5 112.3L483.8 112.7L483.1 112.1L482.4 112.0L481.7 112.1L481.0 111.8L480.3 111.9L479.6 112.3L478.9 112.1L478.2 111.9L477.5 112.1L476.8 111.5L476.1 110.5L475.4 110.3L474.7 109.7Z" fill="#dc2033"/>
<path d="M554.5 67.7L555.2 65.8L555.9 64.3L556.6 63.4L557.3 62.4L558.0 61.8L558.7 61.0L559.4 61.3L560.1 61.5L560.8 61.4L561.5 61.2L562.2 60.6L562.9 61.1L563.6 61.0L564.3 60.3L565.0 60.6L565.7 60.0L566.4 60.1L567.1 60.2L567.8 60.0L568.5 60.4L569.2 60.5L569.9 60.0L570.6 60.0L571.3 59.8L572.0 59.7L572.7 60.2L573.4 60.0L574.1 59.6L574.8 59.9L575.5 59.8L576.2 60.1L576.9 59.9L577.6 59.8L578.3 59.7L579.0 60.0L579.7 59.9L580.4 59.4L581.1 59.2L581.8 59.6L582.5 59.0L583.2 59.2L583.9 58.9L584.6 59.1L585.3 58.8L586.0 59.0L586.7 59.3L587.4 59.3L588.1 59.2L588.8 59.0L588.8 115.1L588.1 115.2L587.4 115.0L586.7 114.8L586.0 114.9L585.3 114.7L584.6 115.0L583.9 114.5L583.2 114.9L582.5 114.8L581.8 115.0L581.1 114.8L580.4 114.8L579.7 114.8L579.0 114.2L578.3 114.3L577.6 114.3L576.9 114.5L576.2 114.4L575.5 114.2L574.8 114.4L574.1 113.8L573.4 113.8L572.7 114.1L572.0 114.0L571.3 114.1L570.6 113.8L569.9 114.3L569.2 114.1L568.5 113.7L567.8 114.2L567.1 113.9L566.4 114.0L565.7 113.8L565.0 113.8L564.3 113.8L563.6 113.4L562.9 113.4L562.2 113.8L561.5 113.6L560.8 113.5L560.1 113.2L559.4 113.5L558.7 112.9L558.0 112.9L557.3 113.4L556.6 113.1L555.9 112.8L555.2 112.9L554.5 113.1Z" fill="#dc2033"/>
<path d="M595.2 66.7L595.9 66.1L596.6 64.7L597.3 64.2L598.0 63.1L598.7 63.1L599.4 63.0L600.1 62.2L600.8 62.8L601.5 62.0L602.2 61.9L602.9 62.1L603.6 62.2L604.3 62.0L605.0 61.3L605.7 61.7L606.4 61.6L607.1 61.5L607.8 61.7L608.5 61.2L609.2 61.6L609.9 61.0L610.6 61.0L611.3 60.9L612.0 61.0L612.7 61.3L613.4 61.1L614.1 61.3L614.8 60.8L615.5 61.1L616.2 61.0L616.9 60.7L617.6 60.6L618.3 61.1L619.0 60.7L619.7 60.9L620.4 60.7L621.1 60.7L621.8 60.2L622.5 60.2L623.2 60.1L623.9 60.5L624.6 59.7L625.3 60.3L626.0 59.8L626.7 59.7L627.4 59.6L628.1 59.5L628.8 59.5L629.5 59.1L630.2 59.0L630.9 59.5L631.6 59.3L632.3 58.7L633.0 58.9L633.7 58.7L633.7 115.5L633.0 115.5L632.3 115.3L631.6 115.3L630.9 115.8L630.2 115.7L629.5 115.1L628.8 115.3L628.1 115.5L627.4 115.5L626.7 115.4L626.0 115.2L625.3 115.4L624.6 114.9L623.9 115.6L623.2 115.6L622.5 114.8L621.8 115.3L621.1 115.4L620.4 115.5L619.7 115.0L619.0 115.5L618.3 114.9L617.6 114.9L616.9 114.9L616.2 115.1L615.5 115.3L614.8 115.1L614.1 114.9L613.4 115.3L612.7 115.2L612.0 115.0L611.3 115.0L610.6 114.4L609.9 114.9L609.2 114.4L608.5 115.1L607.8 114.5L607.1 115.0L606.4 114.7L605.7 114.6L605.0 114.7L604.3 114.7L603.6 114.9L602.9 114.5L602.2 114.5L601.5 114.5L600.8 114.6L600.1 114.3L599.4 114.1L598.7 114.7L598.0 114.5L597.3 114.0L596.6 114.3L595.9 114.3L595.2 113.9Z" fill="#dc2033"/>
<path d="M640.6 66.7L641.3 65.0L642.0 64.5L642.7 63.8L643.4 63.1L644.1 62.5L644.8 62.4L645.5 62.3L646.2 62.0L646.9 61.8L647.6 61.0L648.3 61.1L649.0 60.7L649.7 61.2L650.4 60.6L651.1 60.7L651.8 60.2L652.5 60.1L653.2 59.7L653.9 59.8L654.6 60.1L655.3 59.4L656.0 59.3L656.7 59.6L656.7 116.5L656.0 116.3L655.3 116.1L654.6 116.1L653.9 115.9L653.2 116.3L652.5 116.1L651.8 115.6L651.1 115.6L650.4 115.8L649.7 115.3L649.0 115.0L648.3 115.7L647.6 115.2L646.9 115.2L646.2 115.2L645.5 114.6L644.8 115.1L644.1 115.0L643.4 114.3L642.7 114.9L642.0 114.6L641.3 114.0L640.6 113.9Z" fill="#dc2033"/>
<path d="M547.3 57.4L548.4 60.4L549.6 77.5L551.1 86.5L554.0 73.0L555.1 68.0L555.1 113.0L553.5 108.0L551.7 89.5L550.8 89.5L549.5 107.0L548.2 113.0L547.3 114.0Z" fill="#dc2033"/>
<path d="M588.6 58.9L589.7 61.9L590.9 78.0L592.0 87.0L594.7 72.0L595.8 67.0L595.8 114.3L594.2 109.3L592.6 90.0L591.7 90.0L590.8 108.1L589.5 114.1L588.6 115.1Z" fill="#dc2033"/>
<path d="M633.6 58.9L634.7 61.9L635.9 76.5L637.3 85.5L640.1 71.5L641.2 66.5L641.2 114.3L639.6 109.3L637.9 89.0L637.0 89.0L635.8 108.6L634.5 114.6L633.6 115.6Z" fill="#dc2033"/>
</g>
<rect x="590.1" y="5.5" width="90.0" height="34.5" rx="2.5" ry="2.5" fill="#ffffff" fill-opacity="0.8" stroke="#cdcfd3" stroke-width="1.3"/>
<line x1="592.3" y1="14.2" x2="615.6" y2="14.2" stroke="#f28232" stroke-width="2.9"/>
<text transform="translate(622.9,17.8) scale(0.9,1)" style="font-size:12.9px;word-spacing:-1.5px">Exp, DES 2</text>
<line x1="592.3" y1="30.1" x2="615.6" y2="30.1" stroke="#dc2033" stroke-width="2.9"/>
<text transform="translate(622.9,33.4) scale(0.9,1)" style="font-size:12.9px;word-spacing:-1.5px">Exp, DES 4</text>
<rect x="56.2" y="0.3" width="628.4" height="128.5" fill="none" stroke="#1c1c1c" stroke-width="1.55"/>
<line x1="84.8" y1="128.8" x2="84.8" y2="135.0" stroke="#1c1c1c" stroke-width="1.7"/>
<text transform="translate(85.3,152.3) scale(0.91,1)" text-anchor="middle">0</text>
<line x1="194.0" y1="128.8" x2="194.0" y2="135.0" stroke="#1c1c1c" stroke-width="1.7"/>
<text transform="translate(194.5,152.3) scale(0.91,1)" text-anchor="middle">200</text>
<line x1="303.2" y1="128.8" x2="303.2" y2="135.0" stroke="#1c1c1c" stroke-width="1.7"/>
<text transform="translate(303.7,152.3) scale(0.91,1)" text-anchor="middle">400</text>
<line x1="412.4" y1="128.8" x2="412.4" y2="135.0" stroke="#1c1c1c" stroke-width="1.7"/>
<text transform="translate(412.9,152.3) scale(0.91,1)" text-anchor="middle">600</text>
<line x1="521.6" y1="128.8" x2="521.6" y2="135.0" stroke="#1c1c1c" stroke-width="1.7"/>
<text transform="translate(522.1,152.3) scale(0.91,1)" text-anchor="middle">800</text>
<line x1="630.8" y1="128.8" x2="630.8" y2="135.0" stroke="#1c1c1c" stroke-width="1.7"/>
<text transform="translate(632.0,152.3) scale(0.91,1)" text-anchor="middle">1000</text>
<line x1="50.0" y1="16.5" x2="56.2" y2="16.5" stroke="#1c1c1c" stroke-width="1.7"/>
<text transform="translate(44.5,22.4) scale(0.875,1)" text-anchor="end">100</text>
<line x1="50.0" y1="81.0" x2="56.2" y2="81.0" stroke="#1c1c1c" stroke-width="1.7"/>
<text transform="translate(44.5,87.0) scale(0.920,1)" text-anchor="end">80</text>
<text transform="translate(11.1,65.5) rotate(-90)" text-anchor="middle" style="font-size:14.8px" textLength="45.4" lengthAdjust="spacingAndGlyphs"><tspan font-style="italic">C</tspan> in pF</text>
<!-- bottom axes -->
<line x1="84.8" y1="173.1" x2="84.8" y2="302.0" stroke="#b6b7bb" stroke-width="1.2"/>
<line x1="194.0" y1="173.1" x2="194.0" y2="302.0" stroke="#b6b7bb" stroke-width="1.2"/>
<line x1="303.2" y1="173.1" x2="303.2" y2="302.0" stroke="#b6b7bb" stroke-width="1.2"/>
<line x1="412.4" y1="173.1" x2="412.4" y2="302.0" stroke="#b6b7bb" stroke-width="1.2"/>
<line x1="521.6" y1="173.1" x2="521.6" y2="302.0" stroke="#b6b7bb" stroke-width="1.2"/>
<line x1="630.8" y1="173.1" x2="630.8" y2="302.0" stroke="#b6b7bb" stroke-width="1.2"/>
<line x1="56.2" y1="173.1" x2="684.6" y2="173.1" stroke="#b6b7bb" stroke-width="1.2"/>
<line x1="56.2" y1="219.0" x2="684.6" y2="219.0" stroke="#b6b7bb" stroke-width="1.2"/>
<line x1="56.2" y1="265.0" x2="684.6" y2="265.0" stroke="#b6b7bb" stroke-width="1.2"/>
<g clip-path="url(#cb)">
<path d="M84.6 237.0L85.3 244.0L86.3 250.6L87.4 253.2L88.6 253.0L89.4 250.5L90.0 241.9L90.5 230.1L90.7 228.4L91.0 230.4L91.5 242.4L92.2 251.7L92.9 253.0L93.6 254.0L94.3 254.7L95.0 255.2L95.7 255.5L96.4 255.8L97.1 255.9L97.8 256.0L98.5 256.1L99.2 256.1L99.9 256.0L100.6 255.8L101.3 255.5L102.1 254.7L102.7 248.3L103.2 239.5L103.4 238.2L103.7 239.5L104.3 247.5L104.9 253.6L105.6 254.6L106.3 255.2L107.0 255.7L107.7 256.1L108.4 256.3L109.1 256.5L109.8 256.6L110.5 256.7L111.2 256.8L111.9 256.8L112.6 256.7L113.3 256.6L114.0 256.4L114.8 255.7L115.4 250.6L115.9 243.6L116.1 242.6L116.4 243.6L117.0 250.0L117.6 255.0L118.3 255.8L119.0 256.3L119.7 256.7L120.4 257.0L121.1 257.3L121.8 257.5L122.5 257.6L123.2 257.7L123.9 257.7L124.6 257.7L125.3 257.7L126.0 257.7L126.7 257.6L127.5 257.4L128.1 255.3L128.6 252.6L128.8 252.2L129.1 252.6L129.7 255.1L130.3 257.0L131.0 257.3L131.7 257.5L132.4 257.7L133.1 257.8L133.8 257.9L134.5 257.9L135.2 258.0L135.9 258.0L136.6 258.0L137.3 258.0L138.0 258.0L138.7 257.9L139.4 257.8L140.2 257.6L140.8 255.7L141.3 253.2L141.5 252.8L141.8 253.2L142.4 255.5L143.0 257.3L143.7 257.6L144.4 257.7L145.1 257.9L145.8 258.0L146.5 258.1L147.2 258.1L147.9 258.2L148.6 258.2L149.3 258.2L150.0 258.2L150.7 258.1L151.4 258.1L152.1 257.9L152.9 257.7L153.5 255.6L154.0 252.6L154.2 252.2L154.5 252.6L155.1 255.3L155.7 257.3L156.4 257.6L157.1 257.8L157.8 258.0L158.5 258.1L159.2 258.2L159.9 258.2L160.6 258.2L161.3 258.2L162.0 258.1L162.7 258.0L163.4 257.8L164.1 257.5L164.8 257.1L165.6 256.1L166.2 248.2L166.7 237.2L166.9 235.6L167.2 237.2L167.8 247.0L168.4 254.6L169.1 255.7L169.8 256.5L170.5 257.1L171.2 257.5L171.9 257.7L172.6 257.9L173.3 258.1L174.0 258.1L174.7 258.1L175.4 258.0L176.1 257.9L176.8 257.6L177.5 257.1L178.3 256.3L178.9 248.2L179.4 237.2L179.6 235.6L179.9 237.2L180.5 247.1L181.1 254.7L181.8 255.8L182.5 256.6L183.2 257.2L183.9 257.6L184.6 257.9L185.3 258.1L186.0 258.2L186.7 258.2L187.4 258.2L188.1 258.2L188.8 258.0L189.5 257.7L190.2 257.3L191.1 256.4L191.7 248.3L192.1 237.2L192.4 235.6L192.7 237.2L193.2 247.2L193.9 254.8L194.6 255.9L195.3 256.7L196.0 257.3L196.7 257.7L197.4 258.0L198.1 258.2L198.8 258.3L199.5 258.4L200.2 258.4L200.9 258.4L201.6 258.2L202.3 258.0L203.0 257.7L203.8 257.1L204.4 251.0L204.8 242.6L205.1 241.4L205.4 242.6L205.9 250.1L206.6 255.8L207.3 256.6L208.0 257.2L208.7 257.6L209.4 257.9L210.1 258.1L210.8 258.3L211.5 258.3L212.2 258.4L212.9 258.4L213.6 258.3L214.3 258.2L215.0 257.9L215.7 257.6L216.5 256.9L217.1 250.7L217.5 242.2L217.8 241.0L218.1 242.2L218.6 249.8L219.3 255.6L220.0 256.5L220.7 257.1L221.4 257.5L222.1 257.8L222.8 258.0L223.5 258.1L224.2 258.2L224.9 258.3L225.6 258.2L226.3 258.2L227.0 258.0L227.7 257.8L228.4 257.4L229.2 256.7L229.8 250.2L230.2 241.3L230.5 240.0L230.8 241.3L231.3 249.3L232.0 255.4L232.7 256.3L233.4 256.9L234.1 257.3L234.8 257.7L235.5 257.9L236.2 258.0L236.9 258.1L237.6 258.1L238.3 258.1L239.0 258.0L239.7 257.9L240.4 257.6L241.1 257.2L241.9 256.5L242.5 249.6L242.9 240.2L243.2 238.8L243.5 240.2L244.0 248.6L244.7 255.1L245.4 256.0L246.1 256.7L246.8 257.2L247.5 257.5L248.2 257.7L248.9 257.9L249.6 258.0L250.3 258.0L251.0 258.0L251.7 257.9L252.4 257.8L253.1 257.5L253.8 257.1L254.6 256.3L255.2 249.1L255.6 239.2L255.9 237.8L256.2 239.2L256.7 248.1L257.4 254.8L258.1 255.8L258.8 256.5L259.5 257.0L260.2 257.3L260.9 257.6L261.6 257.7L262.3 257.8L263.0 257.8L263.7 257.7L264.4 257.6L265.1 257.5L265.8 257.2L266.5 256.7L267.3 256.1L267.9 249.0L268.3 239.2L268.6 237.8L268.9 239.2L269.4 247.8L270.1 254.4L270.8 255.3L271.5 256.0L272.2 256.4L272.9 256.8L273.6 257.0L274.3 257.1L275.0 257.2L275.7 257.2L276.4 257.1L277.1 257.0L277.8 256.9L278.5 256.6L279.2 256.1L280.0 255.5L280.6 248.5L281.1 239.0L281.3 237.6L281.6 239.0L282.2 247.4L282.8 253.9L283.5 254.8L284.2 255.4L284.9 255.9L285.6 256.2L286.3 256.4L287.0 256.5L287.7 256.6L288.4 256.6L289.1 256.5L289.8 256.4L290.5 256.3L291.2 256.0L291.9 255.5L292.7 254.9L293.3 247.9L293.8 238.4L294.0 237.0L294.3 238.4L294.9 246.8L295.5 253.3L296.2 254.2L296.9 254.8L297.6 255.3L298.3 255.6L299.0 255.8L299.7 255.9L300.4 256.0L301.1 256.0L301.8 256.0L302.5 255.9L303.2 255.7L303.9 255.4L304.6 255.0L305.4 254.3L306.0 247.3L306.5 237.6L306.7 236.2L307.0 237.6L307.6 246.2L308.2 252.7L308.9 253.6L309.6 254.3L310.3 254.8L311.0 255.1L311.7 255.3L312.4 255.4L313.1 255.5L313.8 255.5L314.5 255.5L315.2 255.4L315.9 255.2L316.6 254.9L317.3 254.5L318.1 253.9L318.7 247.0L319.2 237.6L319.4 236.2L319.7 237.6L320.3 245.9L320.9 252.3L321.6 253.2L322.3 253.9L323.0 254.3L323.7 254.6L324.4 254.8L325.1 255.0L325.8 255.0L326.5 255.0L327.2 255.0L327.9 254.9L328.6 254.7L329.3 254.5L330.0 254.0L330.8 253.4L331.4 246.5L331.9 237.0L332.1 235.6L332.4 237.0L333.0 245.4L333.6 251.8L334.3 252.7L335.0 253.4L335.7 253.8L336.4 254.1L337.1 254.3L337.8 254.5L338.5 254.5L339.2 254.6L339.9 254.5L340.6 254.4L341.3 254.2L342.0 254.0L342.7 253.5L343.5 252.8L344.1 245.6L344.6 235.6L344.8 234.2L345.1 235.6L345.7 244.5L346.3 251.2L347.0 252.1L347.7 252.8L348.4 253.3L349.1 253.6L349.8 253.8L350.5 254.0L351.2 254.0L351.9 254.1L352.6 254.0L353.3 254.0L354.0 253.8L354.7 253.5L355.4 253.1L356.2 252.4L356.8 245.3L357.3 235.6L357.5 234.2L357.8 235.6L358.4 244.3L359.0 250.9L359.7 251.8L360.4 252.5L361.1 252.9L361.8 253.3L362.5 253.5L363.2 253.6L363.9 253.7L364.6 253.8L365.3 253.7L366.0 253.7L366.7 253.5L367.4 253.2L368.1 252.8L369.0 252.1L369.6 245.1L370.0 235.6L370.3 234.2L370.6 235.6L371.1 244.1L371.8 250.6L372.5 251.5L373.2 252.2L373.9 252.7L374.6 253.0L375.3 253.2L376.0 253.3L376.7 253.4L377.4 253.4L378.1 253.4L378.8 253.3L379.5 253.2L380.2 252.9L380.9 252.5L381.7 251.8L382.3 244.8L382.7 235.2L383.0 233.8L383.3 235.2L383.8 243.7L384.5 250.3L385.2 251.2L385.9 251.9L386.6 252.3L387.3 252.7L388.0 252.9L388.7 253.0L389.4 253.1L390.1 253.1L390.8 253.1L391.5 253.0L392.2 252.9L392.9 252.6L393.6 252.2L394.4 251.5L395.0 244.6L395.4 235.2L395.7 233.8L396.0 235.2L396.5 243.6L397.2 250.0L397.9 250.9L398.6 251.6L399.3 252.0L400.0 252.3L400.7 252.6L401.4 252.7L402.1 252.8L402.8 252.8L403.5 252.8L404.2 252.7L404.9 252.5L405.6 252.2L406.3 251.8L407.1 251.1L407.7 243.8L408.1 233.9L408.4 232.4L408.7 233.8L409.2 242.7L409.9 249.5L410.6 250.5L411.3 251.2L412.0 251.7L412.7 252.0L413.4 252.3L414.1 252.4L414.8 252.5L415.5 252.5L416.2 252.5L416.9 252.5L417.6 252.3L418.3 252.0L419.0 251.6L419.8 250.9L420.4 243.7L420.8 233.8L421.1 232.4L421.4 233.8L421.9 242.6L422.6 249.4L423.3 250.3L424.0 251.0L424.7 251.5L425.4 251.9L426.1 252.1L426.8 252.3L427.5 252.4L428.2 252.4L428.9 252.4L429.6 252.3L430.3 252.1L431.0 251.9L431.7 251.5L432.5 250.7L433.1 243.6L433.5 233.8L433.8 232.4L434.1 233.8L434.6 242.6L435.3 249.2L436.0 250.2L436.7 250.9L437.4 251.4L438.1 251.7L438.8 252.0L439.5 252.1L440.2 252.2L440.9 252.2L441.6 252.2L442.3 252.1L443.0 252.0L443.7 251.7L444.4 251.3L445.2 250.6L445.8 243.5L446.2 233.8L446.5 232.4L446.8 233.8L447.3 242.5L448.0 249.1L448.7 250.1L449.4 250.7L450.1 251.2L450.8 251.6L451.5 251.8L452.2 252.0L452.9 252.1L453.6 252.1L454.3 252.1L455.0 252.0L455.7 251.9L456.4 251.6L457.1 251.2L457.9 250.5L458.5 243.4L459.0 233.8L459.2 232.4L459.5 233.8L460.1 242.4L460.7 249.0L461.4 250.0L462.1 250.7L462.8 251.2L463.5 251.5L464.2 251.8L464.9 252.0L465.6 252.1L466.3 252.2L467.0 252.3L467.7 252.3L468.4 252.3L469.1 252.4L469.8 252.4L470.5 252.4L471.2 252.4L471.9 252.4L472.6 252.4L473.3 252.4L474.0 252.4L474.7 252.4L475.4 252.4L475.7 252.4" fill="none" stroke="#259c48" stroke-width="2.8" stroke-linejoin="round" stroke-linecap="butt"/>
<path d="M475.8 237.3L476.5 237.0L477.2 236.6L477.9 236.2L478.6 235.4L479.3 235.4L480.0 234.9L480.7 234.6L481.4 234.4L482.1 233.7L482.8 233.4L483.5 233.3L484.2 232.9L484.9 232.6L485.6 232.1L486.3 231.3L487.0 230.9L487.7 230.9L488.4 230.2L489.1 229.8L489.8 229.8L490.5 229.3L491.2 228.0L491.9 226.7L492.6 226.8L493.3 226.3L494.0 226.1L494.7 225.9L495.4 225.4L496.1 225.1L496.8 224.9L497.5 224.6L498.2 224.1L498.9 223.7L499.6 223.8L500.3 223.5L501.0 223.2L501.7 223.1L502.4 222.7L503.1 222.5L503.8 222.5L504.5 222.2L505.2 221.9L505.9 221.7L506.6 221.4L507.3 221.5L508.0 221.2L508.7 221.3L509.4 221.4L510.1 220.9L510.8 221.1L511.5 220.8L512.2 220.9L512.9 220.8L513.6 220.7L514.3 220.5L515.0 220.4L515.7 220.3L516.4 220.1L517.1 220.1L517.8 220.0L518.5 219.6L519.2 219.9L519.9 219.8L520.6 219.8L521.3 219.5L522.0 219.4L522.7 219.2L523.4 219.3L524.1 218.9L524.8 219.1L525.5 219.2L526.2 219.1L526.9 219.0L527.6 218.6L528.3 218.7L529.0 218.6L529.7 218.6L530.4 218.3L531.1 218.5L531.8 218.1L532.5 218.4L533.2 218.2L533.9 218.0L534.6 218.1L535.3 217.9L536.0 218.3L536.7 217.9L537.4 217.7L538.1 217.7L538.8 218.0L539.5 218.0L540.2 217.5L540.9 217.5L541.6 217.9L542.3 217.7L543.0 217.9L543.7 217.6L544.4 217.7L545.1 217.4L545.8 217.6L546.5 217.3L546.5 241.0L545.8 240.9L545.1 240.9L544.4 240.9L543.7 241.3L543.0 241.1L542.3 241.1L541.6 241.3L540.9 241.3L540.2 240.9L539.5 241.5L538.8 241.2L538.1 241.5L537.4 241.6L536.7 241.6L536.0 241.6L535.3 241.7L534.6 241.4L533.9 241.7L533.2 241.7L532.5 242.0L531.8 241.6L531.1 241.7L530.4 241.9L529.7 242.2L529.0 241.9L528.3 242.2L527.6 242.2L526.9 242.2L526.2 242.2L525.5 242.3L524.8 242.6L524.1 242.3L523.4 242.4L522.7 242.8L522.0 242.9L521.3 243.0L520.6 242.9L519.9 242.9L519.2 243.0L518.5 243.3L517.8 243.2L517.1 243.0L516.4 243.2L515.7 243.3L515.0 243.2L514.3 243.4L513.6 243.6L512.9 243.9L512.2 243.9L511.5 244.0L510.8 243.9L510.1 243.9L509.4 244.2L508.7 244.4L508.0 244.4L507.3 244.6L506.6 244.3L505.9 244.5L505.2 245.1L504.5 245.1L503.8 245.3L503.1 245.5L502.4 245.1L501.7 245.2L501.0 245.8L500.3 245.8L499.6 245.7L498.9 246.2L498.2 246.4L497.5 246.3L496.8 246.7L496.1 246.8L495.4 247.0L494.7 247.0L494.0 247.2L493.3 247.5L492.6 247.9L491.9 248.1L491.2 248.2L490.5 248.2L489.8 248.3L489.1 248.3L488.4 249.2L487.7 249.2L487.0 249.0L486.3 249.4L485.6 249.9L484.9 249.7L484.2 250.4L483.5 250.3L482.8 250.8L482.1 250.8L481.4 251.3L480.7 251.5L480.0 251.7L479.3 252.0L478.6 252.2L477.9 252.8L477.2 252.8L476.5 253.1L475.8 253.3Z" fill="#259c48"/>
<path d="M554.4 225.5L555.1 224.5L555.8 223.7L556.5 222.1L557.2 221.4L557.9 220.5L558.6 219.8L559.3 219.2L560.0 218.2L560.7 218.0L561.4 217.3L562.1 217.5L562.8 216.7L563.5 216.4L564.2 216.3L564.9 216.2L565.6 215.9L566.3 215.7L567.0 215.3L567.7 214.9L568.4 214.7L569.1 214.8L569.8 214.4L570.5 214.6L571.2 214.6L571.9 214.3L572.6 214.1L573.3 213.7L574.0 213.7L574.7 213.6L575.4 213.5L576.1 213.5L576.8 213.5L577.5 213.3L578.2 213.6L578.9 213.5L579.6 213.5L580.3 213.1L581.0 213.2L581.7 213.2L582.4 213.0L583.1 212.9L583.8 213.1L584.5 212.9L585.2 213.0L585.9 212.7L586.6 212.9L587.3 212.8L588.0 212.7L588.0 235.1L587.3 235.5L586.6 235.2L585.9 235.8L585.2 235.8L584.5 235.6L583.8 236.1L583.1 235.8L582.4 235.9L581.7 236.4L581.0 236.3L580.3 236.4L579.6 236.5L578.9 236.6L578.2 236.6L577.5 236.7L576.8 236.7L576.1 237.2L575.4 236.9L574.7 237.4L574.0 237.5L573.3 237.5L572.6 237.3L571.9 237.7L571.2 237.8L570.5 238.2L569.8 238.0L569.1 238.1L568.4 238.6L567.7 238.8L567.0 238.7L566.3 239.0L565.6 239.0L564.9 239.3L564.2 239.1L563.5 239.5L562.8 239.7L562.1 239.9L561.4 239.7L560.7 240.2L560.0 240.2L559.3 240.2L558.6 240.5L557.9 240.6L557.2 241.2L556.5 241.2L555.8 241.5L555.1 241.9L554.4 242.2Z" fill="#259c48"/>
<path d="M596.5 214.8L597.2 213.5L597.9 212.1L598.6 211.9L599.3 211.2L600.0 211.0L600.7 210.7L601.4 210.7L602.1 210.1L602.8 210.2L603.5 209.4L604.2 209.6L604.9 209.7L605.6 209.5L606.3 209.1L607.0 208.9L607.7 209.3L608.4 209.3L609.1 209.1L609.8 208.7L610.5 208.9L611.2 208.8L611.9 208.5L612.6 208.6L613.3 208.4L614.0 208.4L614.7 208.4L615.4 207.9L616.1 208.3L616.8 208.3L617.5 208.0L618.2 208.0L618.9 207.5L619.6 207.5L620.3 207.8L621.0 207.6L621.7 207.4L622.4 207.1L623.1 207.2L623.8 207.1L624.5 206.9L625.2 206.7L625.9 206.8L626.6 206.5L627.3 206.4L628.0 206.7L628.7 206.7L629.4 206.2L630.1 206.1L630.8 206.3L631.5 206.0L632.2 206.3L632.9 206.1L633.6 205.9L633.6 224.8L632.9 225.3L632.2 225.3L631.5 225.6L630.8 225.3L630.1 225.5L629.4 226.0L628.7 225.8L628.0 226.2L627.3 225.8L626.6 226.4L625.9 226.5L625.2 226.3L624.5 226.6L623.8 227.0L623.1 226.9L622.4 227.3L621.7 227.2L621.0 227.0L620.3 227.5L619.6 227.6L618.9 227.8L618.2 227.6L617.5 228.2L616.8 228.0L616.1 228.3L615.4 228.4L614.7 228.7L614.0 228.8L613.3 228.8L612.6 229.0L611.9 229.4L611.2 229.3L610.5 229.8L609.8 229.6L609.1 230.3L608.4 230.5L607.7 230.3L607.0 230.3L606.3 231.0L605.6 230.8L604.9 231.3L604.2 231.5L603.5 231.6L602.8 231.5L602.1 231.8L601.4 231.9L600.7 232.6L600.0 232.5L599.3 233.0L598.6 233.6L597.9 234.5L597.2 235.7L596.5 236.8Z" fill="#259c48"/>
<path d="M640.3 208.5L641.0 207.5L641.7 206.0L642.4 205.4L643.1 205.2L643.8 205.3L644.5 204.8L645.2 204.8L645.9 204.8L646.6 204.5L647.3 204.1L648.0 204.5L648.7 204.4L649.4 203.9L650.1 203.9L650.8 204.1L651.5 203.9L652.2 203.3L652.9 203.3L653.6 203.2L654.3 203.4L655.0 203.2L655.7 202.7L656.4 202.6L656.4 221.6L655.7 221.8L655.0 221.7L654.3 221.8L653.6 222.1L652.9 222.3L652.2 222.5L651.5 222.5L650.8 222.6L650.1 222.5L649.4 222.9L648.7 223.3L648.0 223.0L647.3 223.2L646.6 223.7L645.9 223.6L645.2 224.1L644.5 224.5L643.8 224.8L643.1 225.6L642.4 225.9L641.7 226.5L641.0 226.9L640.3 228.0Z" fill="#259c48"/>
<path d="M545.6 217.4L547.4 232.6L549.6 233.2L550.2 237.4L555.4 237.6L555.4 242.0L545.6 240.9Z" fill="#259c48"/>
<path d="M587.6 212.6L589.9 213.1L590.6 231.8L594.4 231.8L595.0 214.0L597.4 214.6L597.4 236.0L595.8 237.2L587.6 235.3Z" fill="#259c48"/>
<path d="M632.7 205.9L635.0 208.8L635.8 222.6L639.0 222.6L639.7 208.8L640.6 208.5L641.2 227.4L632.7 225.1Z" fill="#259c48"/>
<path d="M84.6 214.8L85.3 219.5L86.3 224.4L87.4 226.0L88.6 226.0L89.4 223.3L90.0 214.0L90.5 201.3L90.7 199.4L91.0 201.5L91.5 214.1L92.2 223.7L92.9 225.1L93.6 226.1L94.3 226.9L95.0 227.4L95.7 227.7L96.4 228.0L97.1 228.1L97.8 228.2L98.5 228.3L99.2 228.2L99.9 228.1L100.6 228.0L101.3 227.6L102.1 226.9L102.7 220.7L103.2 212.2L103.4 211.0L103.7 212.3L104.3 220.0L104.9 225.9L105.6 226.9L106.3 227.5L107.0 228.0L107.7 228.3L108.4 228.6L109.1 228.8L109.8 228.9L110.5 229.0L111.2 229.1L111.9 229.1L112.6 229.1L113.3 229.0L114.0 228.8L114.8 228.2L115.4 223.8L115.9 217.9L116.1 217.0L116.4 217.9L117.0 223.3L117.6 227.6L118.3 228.3L119.0 228.7L119.7 229.1L120.4 229.4L121.1 229.6L121.8 229.7L122.5 229.8L123.2 229.9L123.9 230.0L124.6 230.0L125.3 230.1L126.0 230.1L126.7 230.0L127.5 229.8L128.1 228.2L128.6 226.1L128.8 225.8L129.1 226.1L129.7 228.1L130.3 229.8L131.0 230.1L131.7 230.3L132.4 230.4L133.1 230.6L133.8 230.7L134.5 230.8L135.2 230.9L135.9 230.9L136.6 231.0L137.3 231.0L138.0 231.0L138.7 231.0L139.4 231.0L140.2 230.6L140.8 229.0L141.3 226.7L141.5 226.4L141.8 226.7L142.4 228.8L143.0 230.5L143.7 230.7L144.4 230.9L145.1 231.0L145.8 231.1L146.5 231.1L147.2 231.2L147.9 231.2L148.6 231.2L149.3 231.2L150.0 231.2L150.7 231.1L151.4 231.1L152.1 230.9L152.9 230.7L153.5 228.8L154.0 226.2L154.2 225.8L154.5 226.2L155.1 228.5L155.7 230.3L156.4 230.6L157.1 230.8L157.8 230.9L158.5 231.0L159.2 231.1L159.9 231.1L160.6 231.1L161.3 231.1L162.0 231.0L162.7 230.9L163.4 230.7L164.1 230.4L164.8 230.0L165.6 229.1L166.2 221.7L166.7 211.5L166.9 210.0L167.2 211.5L167.8 220.6L168.4 227.6L169.1 228.7L169.8 229.4L170.5 229.9L171.2 230.3L171.9 230.5L172.6 230.7L173.3 230.8L174.0 230.8L174.7 230.8L175.4 230.8L176.1 230.6L176.8 230.4L177.5 229.9L178.3 229.1L178.9 221.8L179.4 211.7L179.6 210.2L179.9 211.7L180.5 220.7L181.1 227.7L181.8 228.7L182.5 229.4L183.2 229.9L183.9 230.3L184.6 230.5L185.3 230.7L186.0 230.8L186.7 230.8L187.4 230.8L188.1 230.7L188.8 230.6L189.5 230.3L190.2 229.9L191.1 229.1L191.7 221.7L192.1 211.5L192.4 210.0L192.7 211.5L193.2 220.6L193.9 227.6L194.6 228.6L195.3 229.3L196.0 229.9L196.7 230.2L197.4 230.5L198.1 230.7L198.8 230.8L199.5 230.8L200.2 230.9L200.9 230.8L201.6 230.7L202.3 230.5L203.0 230.2L203.8 229.6L204.4 224.3L204.8 216.9L205.1 215.8L205.4 216.9L205.9 223.5L206.6 228.5L207.3 229.2L208.0 229.8L208.7 230.1L209.4 230.4L210.1 230.6L210.8 230.7L211.5 230.7L212.2 230.8L212.9 230.8L213.6 230.7L214.3 230.6L215.0 230.4L215.7 230.1L216.5 229.5L217.1 224.2L217.5 216.9L217.8 215.8L218.1 216.9L218.6 223.4L219.3 228.4L220.0 229.1L220.7 229.6L221.4 230.0L222.1 230.2L222.8 230.4L223.5 230.5L224.2 230.6L224.9 230.6L225.6 230.6L226.3 230.5L227.0 230.4L227.7 230.2L228.4 229.9L229.2 229.3L229.8 223.8L230.2 216.3L230.5 215.2L230.8 216.3L231.3 223.0L232.0 228.2L232.7 228.9L233.4 229.4L234.1 229.8L234.8 230.1L235.5 230.2L236.2 230.4L236.9 230.4L237.6 230.5L238.3 230.4L239.0 230.4L239.7 230.2L240.4 230.0L241.1 229.7L241.9 229.1L242.5 223.2L242.9 215.2L243.2 214.0L243.5 215.2L244.0 222.3L244.7 227.8L245.4 228.6L246.1 229.2L246.8 229.6L247.5 229.9L248.2 230.1L248.9 230.2L249.6 230.3L250.3 230.3L251.0 230.3L251.7 230.2L252.4 230.1L253.1 229.9L253.8 229.5L254.6 228.9L255.2 223.1L255.6 215.2L255.9 214.0L256.2 215.2L256.7 222.3L257.4 227.7L258.1 228.5L258.8 229.0L259.5 229.4L260.2 229.7L260.9 229.9L261.6 230.0L262.3 230.1L263.0 230.1L263.7 230.1L264.4 230.1L265.1 229.9L265.8 229.7L266.5 229.3L267.3 228.7L267.9 222.8L268.3 214.6L268.6 213.4L268.9 214.6L269.4 221.9L270.1 227.5L270.8 228.3L271.5 228.9L272.2 229.3L272.9 229.5L273.6 229.7L274.3 229.9L275.0 229.9L275.7 230.0L276.4 230.0L277.1 229.9L277.8 229.8L278.5 229.5L279.2 229.2L280.0 228.6L280.6 222.7L281.1 214.6L281.3 213.4L281.6 214.6L282.2 221.8L282.8 227.3L283.5 228.1L284.2 228.7L284.9 229.1L285.6 229.4L286.3 229.6L287.0 229.7L287.7 229.8L288.4 229.8L289.1 229.8L289.8 229.7L290.5 229.6L291.2 229.4L291.9 229.0L292.7 228.4L293.3 222.6L293.8 214.6L294.0 213.4L294.3 214.6L294.9 221.7L295.5 227.2L296.2 228.0L296.9 228.6L297.6 229.0L298.3 229.3L299.0 229.4L299.7 229.6L300.4 229.6L301.1 229.7L301.8 229.7L302.5 229.6L303.2 229.5L303.9 229.3L304.6 228.9L305.4 228.3L306.0 222.3L306.5 214.0L306.7 212.8L307.0 214.0L307.6 221.4L308.2 227.1L308.9 227.9L309.6 228.5L310.3 228.9L311.0 229.2L311.7 229.4L312.4 229.6L313.1 229.6L313.8 229.7L314.5 229.7L315.2 229.6L315.9 229.5L316.6 229.3L317.3 228.9L318.1 228.3L318.7 222.3L319.2 214.0L319.4 212.8L319.7 214.0L320.3 221.4L320.9 227.1L321.6 227.9L322.3 228.5L323.0 228.9L323.7 229.2L324.4 229.4L325.1 229.6L325.8 229.6L326.5 229.7L327.2 229.7L327.9 229.6L328.6 229.5L329.3 229.3L330.0 228.9L330.8 228.3L331.4 222.3L331.9 214.0L332.1 212.8L332.4 214.0L333.0 221.4L333.6 227.1L334.3 227.9L335.0 228.5L335.7 228.9L336.4 229.2L337.1 229.4L337.8 229.6L338.5 229.6L339.2 229.7L339.9 229.7L340.6 229.6L341.3 229.5L342.0 229.3L342.7 228.9L343.5 228.3L344.1 222.3L344.6 214.0L344.8 212.8L345.1 214.0L345.7 221.4L346.3 227.1L347.0 227.9L347.7 228.5L348.4 228.9L349.1 229.2L349.8 229.4L350.5 229.5L351.2 229.6L351.9 229.6L352.6 229.6L353.3 229.5L354.0 229.4L354.7 229.2L355.4 228.8L356.2 228.1L356.8 221.8L357.3 213.2L357.5 211.9L357.8 213.2L358.4 220.9L359.0 226.8L359.7 227.6L360.4 228.3L361.1 228.7L361.8 229.0L362.5 229.2L363.2 229.3L363.9 229.4L364.6 229.4L365.3 229.4L366.0 229.3L366.7 229.2L367.4 229.0L368.1 228.6L369.0 228.0L369.6 221.7L370.0 213.1L370.3 211.9L370.6 213.1L371.1 220.8L371.8 226.6L372.5 227.5L373.2 228.1L373.9 228.5L374.6 228.8L375.3 229.0L376.0 229.1L376.7 229.2L377.4 229.2L378.1 229.2L378.8 229.1L379.5 229.0L380.2 228.8L380.9 228.4L381.7 227.8L382.3 221.6L382.7 213.1L383.0 211.9L383.3 213.1L383.8 220.7L384.5 226.5L385.2 227.3L385.9 227.9L386.6 228.3L387.3 228.6L388.0 228.8L388.7 228.9L389.4 229.0L390.1 229.0L390.8 229.0L391.5 228.9L392.2 228.8L392.9 228.6L393.6 228.2L394.4 227.6L395.0 221.5L395.4 213.1L395.7 211.9L396.0 213.1L396.5 220.6L397.2 226.3L397.9 227.1L398.6 227.7L399.3 228.1L400.0 228.4L400.7 228.6L401.4 228.7L402.1 228.8L402.8 228.8L403.5 228.8L404.2 228.7L404.9 228.6L405.6 228.4L406.3 228.0L407.1 227.3L407.7 220.9L408.1 212.2L408.4 210.9L408.7 212.2L409.2 220.0L409.9 226.0L410.6 226.8L411.3 227.4L412.0 227.9L412.7 228.2L413.4 228.4L414.1 228.5L414.8 228.6L415.5 228.6L416.2 228.6L416.9 228.5L417.6 228.4L418.3 228.2L419.0 227.8L419.8 227.1L420.4 220.8L420.8 212.2L421.1 210.9L421.4 212.2L421.9 219.9L422.6 225.8L423.3 226.7L424.0 227.3L424.7 227.7L425.4 228.0L426.1 228.2L426.8 228.3L427.5 228.4L428.2 228.4L428.9 228.4L429.6 228.4L430.3 228.2L431.0 228.0L431.7 227.6L432.5 227.0L433.1 220.7L433.5 212.1L433.8 210.9L434.1 212.1L434.6 219.8L435.3 225.6L436.0 226.5L436.7 227.1L437.4 227.5L438.1 227.8L438.8 228.0L439.5 228.1L440.2 228.2L440.9 228.3L441.6 228.3L442.3 228.2L443.0 228.1L443.7 227.8L444.4 227.5L445.2 226.8L445.8 220.6L446.2 212.1L446.5 210.9L446.8 212.1L447.3 219.7L448.0 225.6L448.7 226.4L449.4 227.0L450.1 227.5L450.8 227.8L451.5 228.0L452.2 228.1L452.9 228.2L453.6 228.2L454.3 228.2L455.0 228.2L455.7 228.0L456.4 227.8L457.1 227.4L457.9 226.8L458.5 220.6L459.0 212.1L459.2 210.9L459.5 212.1L460.1 219.7L460.7 225.5L461.4 226.4L462.1 227.0L462.8 227.4L463.5 227.7L464.2 228.0L464.9 228.1L465.6 228.2L466.3 228.3L467.0 228.4L467.7 228.4L468.4 228.4L469.1 228.5L469.8 228.5L470.5 228.5L471.2 228.5L471.9 228.5L472.6 228.5L473.3 228.5L474.0 228.5L474.7 228.5L475.4 228.5L475.7 228.5" fill="none" stroke="#0672b4" stroke-width="2.8" stroke-linejoin="round" stroke-linecap="butt"/>
<path d="M475.8 215.3L476.5 214.8L477.2 214.6L477.9 214.0L478.6 214.1L479.3 213.4L480.0 213.5L480.7 212.7L481.4 212.6L482.1 212.1L482.8 211.6L483.5 211.5L484.2 211.2L484.9 211.0L485.6 210.7L486.3 209.8L487.0 209.5L487.7 209.6L488.4 208.8L489.1 208.4L489.8 208.3L490.5 208.0L491.2 207.6L491.9 206.8L492.6 207.1L493.3 206.4L494.0 206.3L494.7 205.9L495.4 205.4L496.1 205.4L496.8 205.3L497.5 204.7L498.2 204.5L498.9 204.2L499.6 203.9L500.3 203.9L501.0 203.4L501.7 203.3L502.4 202.9L503.1 202.7L503.8 202.4L504.5 202.4L505.2 201.9L505.9 201.7L506.6 201.5L507.3 201.5L508.0 201.5L508.7 201.3L509.4 200.8L510.1 200.5L510.8 200.8L511.5 200.4L512.2 200.3L512.9 200.4L513.6 200.2L514.3 199.9L515.0 200.0L515.7 199.6L516.4 199.3L517.1 199.3L517.8 199.3L518.5 199.3L519.2 198.9L519.9 198.9L520.6 199.0L521.3 198.8L522.0 198.5L522.7 198.5L523.4 198.5L524.1 198.4L524.8 198.0L525.5 198.2L526.2 198.1L526.9 197.8L527.6 197.6L528.3 198.1L529.0 197.6L529.7 197.4L530.4 197.5L531.1 197.3L531.8 197.6L532.5 197.5L533.2 197.2L533.9 197.3L534.6 197.2L535.3 197.1L536.0 196.6L536.7 196.6L537.4 196.5L538.1 196.5L538.8 196.4L539.5 196.5L540.2 196.1L540.9 196.6L541.6 195.9L542.3 196.2L543.0 195.8L543.7 196.2L544.4 195.8L545.1 195.8L545.8 196.2L546.5 195.8L546.5 216.5L545.8 216.7L545.1 216.9L544.4 216.6L543.7 216.5L543.0 217.0L542.3 216.6L541.6 216.9L540.9 217.1L540.2 217.1L539.5 216.8L538.8 217.1L538.1 217.4L537.4 217.6L536.7 217.1L536.0 217.4L535.3 217.4L534.6 217.5L533.9 217.9L533.2 217.9L532.5 217.7L531.8 217.7L531.1 218.2L530.4 218.2L529.7 218.2L529.0 218.2L528.3 218.2L527.6 218.1L526.9 218.6L526.2 218.3L525.5 218.7L524.8 218.9L524.1 218.6L523.4 218.9L522.7 219.2L522.0 219.2L521.3 219.3L520.6 219.4L519.9 219.5L519.2 219.3L518.5 219.4L517.8 219.4L517.1 219.9L516.4 219.6L515.7 219.9L515.0 219.9L514.3 219.9L513.6 220.1L512.9 220.4L512.2 220.6L511.5 220.8L510.8 220.4L510.1 220.7L509.4 221.2L508.7 221.3L508.0 221.4L507.3 221.1L506.6 221.3L505.9 221.5L505.2 221.9L504.5 221.8L503.8 222.3L503.1 222.3L502.4 222.2L501.7 222.7L501.0 222.6L500.3 223.0L499.6 222.7L498.9 223.3L498.2 223.5L497.5 223.7L496.8 223.7L496.1 224.1L495.4 224.0L494.7 224.3L494.0 224.9L493.3 224.9L492.6 225.0L491.9 225.1L491.2 225.2L490.5 225.4L489.8 226.1L489.1 225.8L488.4 226.1L487.7 226.5L487.0 226.6L486.3 227.2L485.6 227.4L484.9 227.2L484.2 227.6L483.5 227.9L482.8 227.7L482.1 228.0L481.4 228.0L480.7 228.4L480.0 228.4L479.3 228.6L478.6 228.8L477.9 229.2L477.2 229.4L476.5 229.8L475.8 229.7Z" fill="#0672b4"/>
<path d="M554.4 204.2L555.1 203.5L555.8 202.3L556.5 201.8L557.2 201.0L557.9 200.6L558.6 200.7L559.3 199.8L560.0 199.4L560.7 199.2L561.4 198.3L562.1 197.9L562.8 197.5L563.5 196.8L564.2 196.0L564.9 195.7L565.6 195.7L566.3 195.2L567.0 195.1L567.7 195.2L568.4 194.6L569.1 194.4L569.8 194.3L570.5 194.4L571.2 194.1L571.9 193.8L572.6 193.7L573.3 194.0L574.0 193.3L574.7 193.2L575.4 193.4L576.1 193.1L576.8 193.1L577.5 193.1L578.2 192.7L578.9 192.7L579.6 192.7L580.3 192.4L581.0 192.3L581.7 192.2L582.4 192.3L583.1 192.6L583.8 192.5L584.5 192.4L585.2 192.2L585.9 192.3L586.6 191.9L587.3 191.8L588.0 191.9L588.0 212.6L587.3 212.7L586.6 212.6L585.9 212.6L585.2 212.8L584.5 212.7L583.8 212.7L583.1 212.8L582.4 213.1L581.7 213.0L581.0 213.1L580.3 213.2L579.6 213.0L578.9 213.4L578.2 213.4L577.5 213.7L576.8 213.5L576.1 213.5L575.4 213.9L574.7 213.5L574.0 213.6L573.3 214.0L572.6 214.2L571.9 214.4L571.2 214.5L570.5 214.5L569.8 214.6L569.1 214.6L568.4 215.2L567.7 215.3L567.0 215.3L566.3 215.6L565.6 215.8L564.9 216.1L564.2 216.6L563.5 217.0L562.8 217.3L562.1 217.4L561.4 217.7L560.7 218.3L560.0 218.3L559.3 219.1L558.6 220.1L557.9 221.1L557.2 221.8L556.5 222.3L555.8 223.6L555.1 224.7L554.4 226.0Z" fill="#0672b4"/>
<path d="M596.5 203.2L597.2 196.9L597.9 194.9L598.6 193.6L599.3 192.1L600.0 191.5L600.7 190.7L601.4 190.8L602.1 190.2L602.8 189.7L603.5 189.0L604.2 188.9L604.9 188.9L605.6 188.6L606.3 188.5L607.0 188.4L607.7 188.2L608.4 187.7L609.1 187.8L609.8 187.8L610.5 187.7L611.2 187.0L611.9 187.5L612.6 187.1L613.3 187.1L614.0 187.3L614.7 186.8L615.4 187.0L616.1 186.6L616.8 186.9L617.5 186.4L618.2 186.6L618.9 186.3L619.6 186.4L620.3 186.1L621.0 186.2L621.7 186.3L622.4 186.3L623.1 186.2L623.8 185.9L624.5 185.9L625.2 185.9L625.9 185.7L626.6 185.7L627.3 185.9L628.0 185.6L628.7 185.4L629.4 185.5L630.1 185.6L630.8 185.0L631.5 185.1L632.2 185.3L632.9 185.2L633.6 185.1L633.6 206.0L632.9 205.9L632.2 205.9L631.5 206.1L630.8 205.9L630.1 205.9L629.4 206.2L628.7 206.2L628.0 206.5L627.3 206.6L626.6 206.8L625.9 206.9L625.2 206.7L624.5 207.0L623.8 207.1L623.1 207.0L622.4 207.2L621.7 207.3L621.0 207.1L620.3 207.1L619.6 207.3L618.9 207.3L618.2 207.4L617.5 207.7L616.8 207.6L616.1 207.8L615.4 208.1L614.7 208.2L614.0 208.3L613.3 208.2L612.6 208.3L611.9 208.3L611.2 208.4L610.5 208.5L609.8 208.6L609.1 208.7L608.4 208.6L607.7 208.8L607.0 209.1L606.3 209.2L605.6 209.0L604.9 209.2L604.2 209.5L603.5 209.3L602.8 209.5L602.1 210.0L601.4 210.3L600.7 210.4L600.0 210.9L599.3 211.4L598.6 211.3L597.9 211.8L597.2 212.8L596.5 214.0Z" fill="#0672b4"/>
<path d="M640.3 201.8L641.0 197.5L641.7 195.1L642.4 192.7L643.1 190.8L643.8 189.3L644.5 188.3L645.2 188.0L645.9 187.0L646.6 186.1L647.3 185.8L648.0 184.8L648.7 184.0L649.4 183.5L650.1 182.8L650.8 183.0L651.5 183.0L652.2 182.9L652.9 183.0L653.6 183.3L654.3 183.9L655.0 184.1L655.7 184.7L656.4 184.9L656.4 202.5L655.7 202.9L655.0 203.0L654.3 203.0L653.6 202.8L652.9 203.4L652.2 203.3L651.5 203.4L650.8 203.8L650.1 203.6L649.4 203.6L648.7 204.0L648.0 203.8L647.3 204.1L646.6 204.2L645.9 204.5L645.2 204.9L644.5 205.1L643.8 205.2L643.1 205.2L642.4 205.1L641.7 205.9L641.0 206.3L640.3 207.3Z" fill="#0672b4"/>
<path d="M546.3 195.9L547.6 211.6L550.0 213.0L553.4 212.6L554.7 204.3L554.7 226.0L553.5 217.9L546.3 217.6Z" fill="#0672b4"/>
<path d="M588.3 192.2L589.8 209.2L592.8 210.2L595.2 210.6L596.8 203.0L596.8 214.0L595.2 213.3L588.3 213.1Z" fill="#0672b4"/>
<path d="M633.4 185.4L634.6 202.2L637.3 203.6L639.2 205.8L640.6 202.0L640.6 208.0L639.4 208.9L633.4 206.4Z" fill="#0672b4"/>
</g>
<rect x="61.2" y="262.2" width="89.7" height="34.2" rx="2.5" ry="2.5" fill="#ffffff" fill-opacity="0.8" stroke="#cdcfd3" stroke-width="1.3"/>
<line x1="64.1" y1="271.4" x2="86.9" y2="271.4" stroke="#259c48" stroke-width="2.9"/>
<text transform="translate(94.4,275.1) scale(0.9,1)" style="font-size:12.9px;word-spacing:-1.5px">Exp, DES 3</text>
<line x1="64.1" y1="287.2" x2="86.9" y2="287.2" stroke="#0672b4" stroke-width="2.9"/>
<text transform="translate(94.4,290.6) scale(0.9,1)" style="font-size:12.9px;word-spacing:-1.5px">Exp, DES 1</text>
<rect x="56.2" y="173.1" width="628.4" height="128.9" fill="none" stroke="#1c1c1c" stroke-width="1.55"/>
<line x1="84.8" y1="302.0" x2="84.8" y2="308.2" stroke="#1c1c1c" stroke-width="1.7"/>
<text transform="translate(85.3,324.4) scale(0.91,1)" text-anchor="middle">0</text>
<line x1="194.0" y1="302.0" x2="194.0" y2="308.2" stroke="#1c1c1c" stroke-width="1.7"/>
<text transform="translate(194.5,324.4) scale(0.91,1)" text-anchor="middle">200</text>
<line x1="303.2" y1="302.0" x2="303.2" y2="308.2" stroke="#1c1c1c" stroke-width="1.7"/>
<text transform="translate(303.7,324.4) scale(0.91,1)" text-anchor="middle">400</text>
<line x1="412.4" y1="302.0" x2="412.4" y2="308.2" stroke="#1c1c1c" stroke-width="1.7"/>
<text transform="translate(412.9,324.4) scale(0.91,1)" text-anchor="middle">600</text>
<line x1="521.6" y1="302.0" x2="521.6" y2="308.2" stroke="#1c1c1c" stroke-width="1.7"/>
<text transform="translate(522.1,324.4) scale(0.91,1)" text-anchor="middle">800</text>
<line x1="630.8" y1="302.0" x2="630.8" y2="308.2" stroke="#1c1c1c" stroke-width="1.7"/>
<text transform="translate(632.0,324.4) scale(0.91,1)" text-anchor="middle">1000</text>
<line x1="50.0" y1="173.1" x2="56.2" y2="173.1" stroke="#1c1c1c" stroke-width="1.7"/>
<text transform="translate(44.5,179.0) scale(0.920,1)" text-anchor="end">75</text>
<line x1="50.0" y1="219.0" x2="56.2" y2="219.0" stroke="#1c1c1c" stroke-width="1.7"/>
<text transform="translate(44.5,224.9) scale(0.920,1)" text-anchor="end">72</text>
<line x1="50.0" y1="265.0" x2="56.2" y2="265.0" stroke="#1c1c1c" stroke-width="1.7"/>
<text transform="translate(44.5,270.9) scale(0.920,1)" text-anchor="end">70</text>
<text transform="translate(11.1,237.6) rotate(-90)" text-anchor="middle" style="font-size:14.8px" textLength="45.4" lengthAdjust="spacingAndGlyphs"><tspan font-style="italic">C</tspan> in pF</text>
<text x="370.6" y="342.8" text-anchor="middle" style="font-size:14.8px"><tspan font-style="italic">t</tspan> in s</text>
</svg>
</body></html>
